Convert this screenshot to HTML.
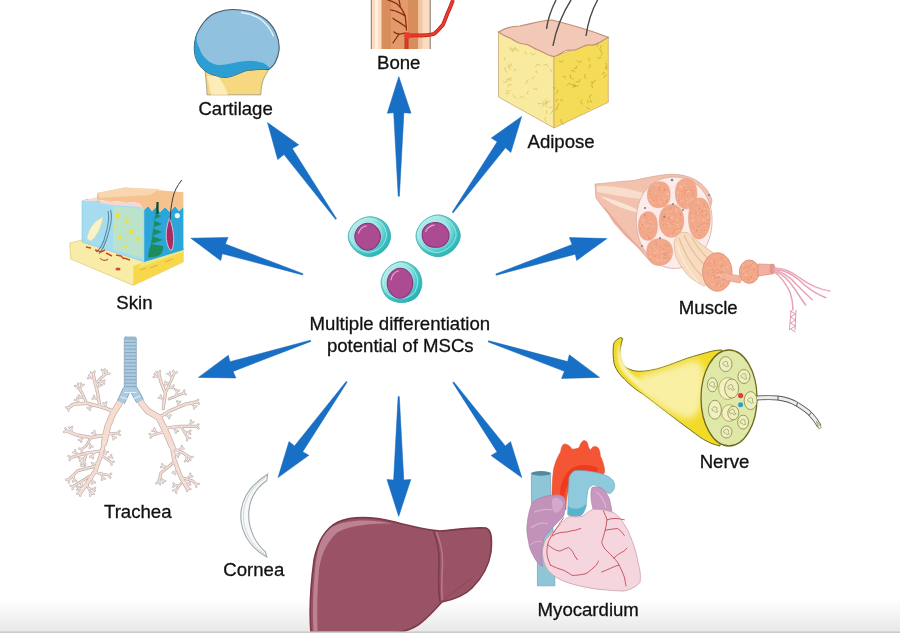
<!DOCTYPE html>
<html><head><meta charset="utf-8"><style>
html,body{margin:0;padding:0;background:#fff;}
#c{position:relative;width:900px;height:633px;overflow:hidden;background:#fff;}
svg{position:absolute;left:0;top:0;will-change:transform;}
text{font-family:"Liberation Sans",sans-serif;font-size:18.6px;fill:#111;stroke:#111;stroke-width:0.3px;}
</style></head><body><div id="c">
<svg width="900" height="633" viewBox="0 0 900 633">
<defs>
<radialGradient id="cyto" cx="0.38" cy="0.38" r="0.72"><stop offset="0" stop-color="#c8f2f0"/><stop offset="0.48" stop-color="#a0e6e4"/><stop offset="0.7" stop-color="#48c6c6"/><stop offset="1" stop-color="#18aaae"/></radialGradient>
<pattern id="dots" width="6" height="6" patternUnits="userSpaceOnUse"><rect width="6" height="6" fill="#f2a98a"/></pattern>
<filter id="blur1" x="-20%" y="-20%" width="140%" height="140%"><feGaussianBlur stdDeviation="1"/></filter>
<filter id="blur2" x="-30%" y="-30%" width="160%" height="160%"><feGaussianBlur stdDeviation="3.5"/></filter>
<linearGradient id="bot" x1="0" y1="0" x2="0" y2="1">
<stop offset="0" stop-color="#ffffff"/><stop offset="1" stop-color="#e8e8e8"/>
</linearGradient>
</defs>
<rect x="0" y="599" width="900" height="33" fill="url(#bot)"/>
<g id="illus">
<!-- CARTILAGE -->
<g id="cart">
<path d="M205,70 C206,80 207,88 207,94.8 L260.8,94.8 C261,88 262,82 264,78 C266,74 268,71 269,69 Z" fill="#f6d880" stroke="#9a927a" stroke-width="0.8"/>
<path d="M207,76 C209,84 210,90 211,94.8 L228,94.8 C226,88 222,82 218,76 Z" fill="#fbecb8"/>
<path d="M205.5,71 C199,66 195,59 194.5,52 C194,46 194.5,41 196,36.3 C198,30 201,26 204,22 C208,17 212,14 216.6,12.6 C222,10.5 227,9.5 232.4,9.5 C239,9.5 245,10.5 251.3,11.8 C257,14 263,17 267,20.5 C272,25 275,30 276.6,34.8 C279,40 279.5,45 279,50.5 C278.5,55 277,59 275,63 C273,66 271,68 268.7,69.5 C265,69.5 262,69.5 259.2,69.5 C255,69.5 251,70 248,70.3 C244,71 240,73 237,74.2 C233,76 229,77 226,77.4 C222,77.5 219,77 216.6,75.8 C212,74.5 208,73 205.5,71 Z" fill="#90c2e0" stroke="#4a5866" stroke-width="1.1"/>
<path d="M197.6,31.6 C196,38 196.5,44 199.2,47.4 C201,53 203,56 205.5,58.4 C209,62 213,64 216.6,64.8 C222,65.5 227,64 232.4,63.2 C238,62 245,61 251.3,60.8 C256,61 260,62 264,63.2 C267,65 269,67 270,68.5 C266,69.5 262,69.5 259.2,69.5 C255,69.5 251,70 248,70.3 C244,71 240,73 237,74.2 C233,76 229,77 226,77.4 C222,77.5 219,77 216.6,75.8 C212,74.5 208,73 205.5,71 C199,66 195,59 194.5,52 C194,46 195,38 197.6,31.6 Z" fill="#2c9ed2"/>
<path d="M241,12.5 C249,13.5 256,16 261,19.5 C267,24 271,30 273.5,36.3" stroke="#e6f4fa" stroke-width="1.4" fill="none"/>
</g>
<!-- BONE -->
<g id="bone">
<rect x="371" y="0" width="59.5" height="49" fill="#f9dcc2"/>
<rect x="381.5" y="0" width="37" height="49" fill="#d88d5c"/>
<rect x="391" y="0" width="17" height="49" fill="#e39a6a"/>
<rect x="418.5" y="0" width="4" height="49" fill="#f2c8a4"/>
<rect x="375" y="0" width="3" height="49" fill="#fdeee0"/>
<line x1="371.3" y1="0" x2="371.3" y2="49" stroke="#857870" stroke-width="1"/>
<line x1="430.2" y1="0" x2="430.2" y2="49" stroke="#857870" stroke-width="1"/>
<g stroke="#8e2c14" stroke-width="1.3" fill="none" stroke-linecap="round">
<path d="M406.5,30 C406,24 405.5,19 405.2,15.9 C403,11 401,8 400.3,7.3 C398,4.5 396,3 394.2,2.4 C392,1.5 390,0.5 388,0"/>
<path d="M400.3,7.3 C400,4 399.5,2 399,0"/>
<path d="M405.2,15.9 C401,13 398,12 395.5,11 C393,10.2 392,10 390.6,9.8"/>
<path d="M406,27 C402,24 399,22 396.7,20.8 C395,20 394,19 393,18.3"/>
<path d="M405.2,33 C403,33.5 401,34 399,34.2 C397,37 395,40 393,42.8"/>
<path d="M399,34.2 C397,34 395,33 394,32"/>
</g>
<path d="M406.5,49 L406.5,36 C410,35 416,35.5 421.1,35.5 C426,35.5 430,35 433.3,34.2 C437,32 440,28 443.1,24.4 C445,20 447,15 448,12.2 C450,8 451.5,4 453,0" stroke="#b82018" stroke-width="3.8" fill="none"/>
<path d="M406.5,49 L406.5,36 C410,35 416,35.5 421.1,35.5 C426,35.5 430,35 433.3,34.2 C437,32 440,28 443.1,24.4 C445,20 447,15 448,12.2 C450,8 451.5,4 453,0" stroke="#ec3a2e" stroke-width="2.3" fill="none"/>
<circle cx="407.5" cy="35.5" r="3.2" fill="#ec3a2e"/>
</g>
<!-- ADIPOSE -->
<g id="adipose">
<path d="M498.5,32 L554,56.5 L554,128 L498.5,97 Z" fill="#f8ea9e" stroke="#c8a878" stroke-width="0.8"/>
<path d="M554,56.5 L608.3,37.3 L608.3,102.3 L554,128 Z" fill="#f4dc58" stroke="#c8a878" stroke-width="0.8"/>
<path d="M498.5,32 C505,28 512,26 520,26 C530,24 542,20 552,20 C568,24 590,30 608.3,37.3 C600,42 596,46 590,45 C582,44 578,52 570,50 C562,50 560,56 554,56.5 C548,56 544,52 538,50 C532,48 530,44 524,44 C518,44 514,40 510,38 C504,36 502,34 498.5,32 Z" fill="#f2c8b6" stroke="#c09078" stroke-width="1.2"/>
<path d="M546.5,28.8 C548,18 552,8 556,0 M552.9,45.8 C556,30 562,14 571,0 M586,36 C588,22 592,10 597.6,0" stroke="#4a4a4a" stroke-width="1.4" fill="none"/>
<path d="M517.2,49.6 L515.9,47.8 L514.2,47.7 M503.1,81.7 L505.9,82.3 L507.8,81.1 M533.4,88.5 L536.4,89.7 L537.7,87.5 M515.3,49.0 L517.3,50.7 L519.4,50.9 M530.3,52.9 L533.1,54.9 L535.5,53.6 M526.3,83.9 L526.8,81.0 L528.9,79.8 M513.2,52.2 L513.6,50.1 L515.2,49.4 M546.4,101.7 L545.4,105.5 L547.7,107.8 M508.7,66.8 L511.3,65.6 L511.2,63.4 M516.6,98.6 L514.0,96.8 L513.2,94.4 M505.0,60.3 L504.3,58.3 L505.5,57.1 M552.6,110.0 L552.0,112.7 L550.4,114.2 M524.5,51.1 L526.0,52.5 L526.3,54.2 M513.1,71.2 L514.6,69.6 L516.3,69.8 M514.7,48.3 L511.9,49.6 L510.5,47.6 M536.2,70.2 L536.4,72.4 L537.8,73.5 M512.4,79.6 L510.2,78.3 L508.2,78.6 M528.3,90.9 L527.4,92.9 L528.3,94.5 M546.2,121.7 L544.8,118.8 L546.0,116.6 M505.5,93.1 L507.5,93.9 L508.9,93.0 M505.8,90.1 L508.3,91.9 L510.2,90.3 M511.0,69.9 L508.4,66.9 L509.2,63.9 M506.1,79.9 L509.0,79.5 L511.1,80.7 M505.4,66.8 L505.1,70.5 L507.4,72.3 M519.2,98.1 L522.2,96.3 L524.1,98.4 M545.8,98.7 L545.6,101.4 L547.2,102.9 M511.8,84.7 L508.5,84.7 L507.7,87.2 M543.4,102.6 L543.8,105.6 L541.7,106.8 M552.4,107.1 L550.1,107.5 L548.7,106.2 M550.6,68.8 L551.1,71.2 L552.8,72.2 M548.2,67.0 L545.9,64.1 L543.2,65.3 M541.5,103.5 L539.1,103.8 L537.5,102.9 M550.1,101.0 L546.8,101.8 L546.3,104.5 M509.0,47.4 L511.2,50.5 L514.2,50.1 M531.6,78.7 L533.7,77.8 L534.7,76.2 M542.4,101.4 L545.2,103.5 L547.8,102.6 M546.2,110.4 L546.8,112.8 L545.4,114.2 M540.5,65.3 L536.9,64.3 L535.5,66.9 " stroke="#dcc466" stroke-width="0.8" fill="none" stroke-linejoin="round"/>
<path d="M573.4,79.4 L570.1,77.5 L570.7,74.5 M600.7,51.2 L602.4,53.7 L601.0,55.7 M586.6,106.7 L588.0,108.6 L589.8,108.4 M572.0,84.6 L568.6,83.4 L567.0,85.7 M601.5,45.4 L599.7,49.0 L601.7,51.4 M578.5,85.9 L574.7,86.4 L573.6,83.5 M601.4,57.4 L598.7,58.3 L596.9,57.0 M558.8,60.7 L561.8,62.2 L563.5,60.2 M563.0,101.6 L561.8,99.7 L560.1,100.3 M575.7,81.9 L579.4,81.7 L580.4,78.9 M606.7,74.7 L604.3,76.0 L604.5,78.2 M556.0,87.6 L554.1,88.4 L552.8,87.4 M560.9,119.0 L561.4,122.7 L563.8,124.5 M557.1,107.0 L556.8,109.2 L555.0,109.5 M576.1,86.1 L573.1,85.9 L571.4,84.2 M558.0,99.2 L556.1,100.2 L556.1,101.9 M596.7,47.2 L598.0,45.5 L597.5,43.9 M572.6,87.6 L574.9,86.4 L575.8,84.6 M605.4,62.5 L607.0,66.0 L605.3,68.6 M565.7,78.3 L564.5,76.1 L562.6,76.7 M581.7,61.1 L578.6,62.2 L576.7,60.3 M605.5,66.5 L606.0,68.9 L607.9,69.0 M591.7,94.7 L589.5,96.2 L590.2,98.3 M555.7,93.8 L557.8,91.8 L558.2,89.6 M589.9,64.2 L590.0,66.8 L588.7,68.4 M573.9,68.3 L576.6,68.0 L576.8,65.9 M571.1,70.7 L573.9,70.7 L575.4,72.3 M589.1,61.3 L589.5,59.2 L588.6,57.7 M585.5,73.9 L584.5,77.0 L586.3,78.9 M582.5,104.5 L580.6,101.7 L582.3,99.5 M592.5,82.5 L591.8,85.7 L592.8,88.0 M587.6,103.1 L588.5,101.0 L587.1,99.8 M590.5,99.6 L590.8,101.7 L592.3,102.2 M604.9,72.4 L602.9,73.0 L602.6,74.7 M590.4,82.1 L594.0,82.2 L595.3,79.6 M558.4,103.4 L558.4,105.5 L557.2,106.7 " stroke="#c9aa2a" stroke-width="0.8" fill="none" stroke-linejoin="round"/>
</g>
<!-- SKIN -->
<g id="skin">
<path d="M69.7,243 L82,240 L145,260 L183.2,247.5 L183.2,262 L133.3,285.4 L70.7,259 Z" fill="#f8eca6" stroke="#d8c070" stroke-width="0.6"/>
<path d="M133.3,266 L183.2,248 L183.2,262 L133.3,285.4 Z" fill="#f6d84a"/>
<path d="M145,260 L183.2,247.5 L183.2,252 L138,268 Z" fill="#f2e684"/>
<path d="M140,270 l6,-2 M150,268 l8,-3 M165,262 l8,-3" stroke="#e0a040" stroke-width="0.8"/>
<path d="M82,201 L88,199 L90,201 L94,198 L97,201 L145,206 L145,262 L82,242 Z" fill="#a6dcf0" stroke="#7ccae6" stroke-width="0.6"/>
<path d="M144.3,210 L148,206 L152,211 L156,207 L160,212 L165,207 L170,212 L175,206 L179,211 L183.4,207 L183.4,250 L144.3,262 Z" fill="#2ca6d8"/>
<path d="M97,193 L125,187.6 L183.4,192.2 L183.4,207 L179,211 L175,206 L170,212 L165,207 L160,212 L156,207 L152,211 L148,206 L144.3,210 L140,204 L134,202 L126,203 L118,201 L110,202 L102,200 L97,201 Z" fill="#f6c28e"/>
<path d="M97,193 L125,187.6 L160,189 L150,195 L100,198 Z" fill="#f8d6b0"/>
<path d="M100,200 L110,202 L118,201 L126,203 L134,202 L140,204 L144.3,210 L140,207 L128,206 L112,205 L100,203 Z" fill="#f4d8d8"/>
<path d="M82,201 L97,197 L97,201 Z" fill="#f4dcd8"/>
<path d="M113,206 L143,209 L143,258 L113,249 Z" fill="#c8e8b0" opacity="0.6"/>
<g fill="#f2de3a">
<circle cx="118" cy="216" r="2.4"/><circle cx="127" cy="221" r="2"/><circle cx="131" cy="232" r="2.4"/><circle cx="120" cy="237" r="2"/><circle cx="138" cy="239" r="2"/><circle cx="115" cy="227" r="1.6"/><circle cx="126" cy="246" r="1.6"/>
</g>
<path d="M87,239 C88,229 94,221 103,217 C101,227 98,235 91,241 Z" fill="#f8f4c8" stroke="#e0d8a0" stroke-width="0.6"/>
<path d="M110.5,210 C113,218 110,228 107,238 C105,245 102,250 99,254 M108,211 C110,220 107,230 104,240 C102,246 99,250 96,252" stroke="#5a8ca4" stroke-width="1.1" fill="none"/>
<path d="M157,203 L158,210 L154,213 L161,216 L153,220 L162,224 L152,228 L162,232 L152,236 L163,240 L151,244 L163,246 C164,250 162,254 158,256 C154,257 150,258 148,257 C148,252 150,248 151,244 Z" fill="#1e8c5c"/>
<path d="M157.5,202 L157.5,214" stroke="#0e4a30" stroke-width="2.2"/>
<path d="M170,250 C165,242 165,230 169.5,218 C174,230 175,242 172,250 Z" fill="#a82c62" stroke="#f0d0dc" stroke-width="0.8"/>
<path d="M181.7,180 C177,186 174,192 173,197.4 C171,206 170.5,212 170.2,220" stroke="#3a3a3a" stroke-width="1" fill="none"/>
<circle cx="177.3" cy="215.6" r="2.6" fill="#eef8f8"/>
<path d="M86,247 l5,1 M95,250 l6,2 l4,-2 M106,253 l6,3 M116,255 l5,1 l3,3 M124,258 l6,2" stroke="#c84a28" stroke-width="1.5" fill="none"/>
<path d="M100,258 c2,3 6,3 8,1" stroke="#b07040" stroke-width="1.1" fill="none"/>
<ellipse cx="118" cy="269" rx="2.6" ry="1.5" fill="#d84a30"/>
</g>
<!-- MUSCLE -->
<g id="muscle">
<path d="M595,184 C610,183 622,181 633,180.7 C645,178 658,175 670,174.3 C690,174 706,182 712,200 L700,262 C680,266 660,266 650,261 C644,255 640,250 639.8,249.6 C634,243 630,239 627,235.4 C622,229 616,223 611.3,217 C605,210 600,204 596,198 Z" fill="#f2c2ae" stroke="#d8a090" stroke-width="0.7"/>
<path d="M597,186 C620,186 640,190 660,200 C640,200 620,196 597,192 Z" fill="#f8dccc"/>
<path d="M600,196 C615,200 632,206 646,214 C630,212 614,206 600,196 Z" fill="#f9e4d8"/>
<path d="M604,206 C616,222 630,238 646,254 C636,246 626,238 618,228 C612,222 608,214 604,206 Z" fill="#e6a290" opacity="0.8"/>
<path d="M636.3,222 C636,196 650,178 672,177 C694,176 711,192 712,218 C713,240 702,262 680,268 C656,272 637,250 636.3,222 Z" fill="#fbecea" stroke="#dcb0a6" stroke-width="0.9"/>
<g fill="url(#dots)" stroke="#e4a08a" stroke-width="0.6">
<path transform="translate(658.5,195) scale(1.06) translate(-658.5,-195)" d="M648,195 C648,186 654,182.6 660,182.6 C667,182.6 669.5,188 669.5,195 C669.5,203 665,207 658,207 C652,207 648,202 648,195 Z"/>
<path transform="translate(686,193.7) scale(1.06) translate(-686,-193.7)" d="M676,193 C676,184 680,179.5 686,179.5 C693,179.5 696.3,185 696.3,194 C696.3,203 692,208 686,208 C679,208 676,201 676,193 Z"/>
<path transform="translate(647.7,226) scale(1.06) translate(-647.7,-226)" d="M639,226 C639,217 643,212.6 648,212.6 C654,212.6 656.8,218 656.8,226 C656.8,235 653,239.5 648,239.5 C642,239.5 639,234 639,226 Z"/>
<path transform="translate(671.5,221) scale(1.06) translate(-671.5,-221)" d="M660,221 C660,211 665,205.5 672,205.5 C679,205.5 683,212 683,221 C683,230 678,236.3 671,236.3 C664,236.3 660,229 660,221 Z"/>
<path transform="translate(699.5,218.5) scale(1.06) translate(-699.5,-218.5)" d="M689.2,218 C689.2,206 694,199.2 700,199.2 C706,199.2 709.7,206 709.7,218 C709.7,230 705,237.9 699,237.9 C693,237.9 689.2,229 689.2,218 Z"/>
<path transform="translate(659.6,252) scale(1.06) translate(-659.6,-252)" d="M647.4,252 C647.4,244 652,239.5 659,239.5 C667,239.5 671.8,244 671.8,252 C671.8,260 666,264.7 659,264.7 C652,264.7 647.4,259 647.4,252 Z"/>
</g>
<path d="M650.5,197.5a0.73,0.73 0 1,0 1.45,0a0.73,0.73 0 1,0 -1.45,0M650.2,194.6a0.51,0.51 0 1,0 1.01,0a0.51,0.51 0 1,0 -1.01,0M651.8,187.6a0.48,0.48 0 1,0 0.96,0a0.48,0.48 0 1,0 -0.96,0M665.6,200.6a0.66,0.66 0 1,0 1.32,0a0.66,0.66 0 1,0 -1.32,0M658.6,196.2a0.61,0.61 0 1,0 1.22,0a0.61,0.61 0 1,0 -1.22,0M659.9,200.2a0.46,0.46 0 1,0 0.92,0a0.46,0.46 0 1,0 -0.92,0M649.6,195.0a0.59,0.59 0 1,0 1.17,0a0.59,0.59 0 1,0 -1.17,0M656.0,200.0a0.54,0.54 0 1,0 1.07,0a0.54,0.54 0 1,0 -1.07,0M658.5,187.8a0.70,0.70 0 1,0 1.41,0a0.70,0.70 0 1,0 -1.41,0M667.1,192.3a0.45,0.45 0 1,0 0.90,0a0.45,0.45 0 1,0 -0.90,0M663.7,190.8a0.74,0.74 0 1,0 1.49,0a0.74,0.74 0 1,0 -1.49,0M665.1,199.0a0.68,0.68 0 1,0 1.37,0a0.68,0.68 0 1,0 -1.37,0M661.8,198.8a0.48,0.48 0 1,0 0.96,0a0.48,0.48 0 1,0 -0.96,0M659.1,190.4a0.62,0.62 0 1,0 1.24,0a0.62,0.62 0 1,0 -1.24,0M662.9,200.0a0.51,0.51 0 1,0 1.03,0a0.51,0.51 0 1,0 -1.03,0M666.2,201.7a0.51,0.51 0 1,0 1.03,0a0.51,0.51 0 1,0 -1.03,0M658.8,188.5a0.54,0.54 0 1,0 1.08,0a0.54,0.54 0 1,0 -1.08,0M653.0,200.6a0.74,0.74 0 1,0 1.48,0a0.74,0.74 0 1,0 -1.48,0M649.5,190.2a0.50,0.50 0 1,0 1.01,0a0.50,0.50 0 1,0 -1.01,0M665.7,189.4a0.52,0.52 0 1,0 1.05,0a0.52,0.52 0 1,0 -1.05,0M663.8,189.0a0.58,0.58 0 1,0 1.15,0a0.58,0.58 0 1,0 -1.15,0M657.5,205.4a0.63,0.63 0 1,0 1.26,0a0.63,0.63 0 1,0 -1.26,0M661.9,203.7a0.47,0.47 0 1,0 0.94,0a0.47,0.47 0 1,0 -0.94,0M649.1,191.2a0.63,0.63 0 1,0 1.27,0a0.63,0.63 0 1,0 -1.27,0M662.0,192.4a0.45,0.45 0 1,0 0.91,0a0.45,0.45 0 1,0 -0.91,0M655.6,195.9a0.50,0.50 0 1,0 1.01,0a0.50,0.50 0 1,0 -1.01,0M692.7,195.6a0.59,0.59 0 1,0 1.19,0a0.59,0.59 0 1,0 -1.19,0M689.7,188.1a0.62,0.62 0 1,0 1.25,0a0.62,0.62 0 1,0 -1.25,0M683.2,181.2a0.53,0.53 0 1,0 1.07,0a0.53,0.53 0 1,0 -1.07,0M680.7,195.8a0.51,0.51 0 1,0 1.03,0a0.51,0.51 0 1,0 -1.03,0M691.9,192.7a0.47,0.47 0 1,0 0.94,0a0.47,0.47 0 1,0 -0.94,0M682.5,204.6a0.46,0.46 0 1,0 0.91,0a0.46,0.46 0 1,0 -0.91,0M683.9,194.3a0.70,0.70 0 1,0 1.40,0a0.70,0.70 0 1,0 -1.40,0M686.7,195.9a0.64,0.64 0 1,0 1.28,0a0.64,0.64 0 1,0 -1.28,0M683.7,188.3a0.59,0.59 0 1,0 1.19,0a0.59,0.59 0 1,0 -1.19,0M691.9,194.3a0.66,0.66 0 1,0 1.33,0a0.66,0.66 0 1,0 -1.33,0M684.6,201.4a0.66,0.66 0 1,0 1.32,0a0.66,0.66 0 1,0 -1.32,0M691.5,190.6a0.65,0.65 0 1,0 1.29,0a0.65,0.65 0 1,0 -1.29,0M689.0,187.6a0.47,0.47 0 1,0 0.95,0a0.47,0.47 0 1,0 -0.95,0M677.4,190.1a0.60,0.60 0 1,0 1.19,0a0.60,0.60 0 1,0 -1.19,0M686.2,190.6a0.69,0.69 0 1,0 1.38,0a0.69,0.69 0 1,0 -1.38,0M681.2,203.8a0.49,0.49 0 1,0 0.98,0a0.49,0.49 0 1,0 -0.98,0M691.6,190.6a0.73,0.73 0 1,0 1.47,0a0.73,0.73 0 1,0 -1.47,0M687.6,205.5a0.74,0.74 0 1,0 1.48,0a0.74,0.74 0 1,0 -1.48,0M681.5,191.1a0.61,0.61 0 1,0 1.22,0a0.61,0.61 0 1,0 -1.22,0M684.0,192.3a0.74,0.74 0 1,0 1.48,0a0.74,0.74 0 1,0 -1.48,0M678.4,200.6a0.62,0.62 0 1,0 1.24,0a0.62,0.62 0 1,0 -1.24,0M684.5,190.5a0.61,0.61 0 1,0 1.22,0a0.61,0.61 0 1,0 -1.22,0M694.4,190.3a0.53,0.53 0 1,0 1.06,0a0.53,0.53 0 1,0 -1.06,0M649.7,224.0a0.68,0.68 0 1,0 1.37,0a0.68,0.68 0 1,0 -1.37,0M648.4,231.6a0.66,0.66 0 1,0 1.31,0a0.66,0.66 0 1,0 -1.31,0M651.5,232.2a0.53,0.53 0 1,0 1.05,0a0.53,0.53 0 1,0 -1.05,0M641.7,224.4a0.56,0.56 0 1,0 1.13,0a0.56,0.56 0 1,0 -1.13,0M648.6,238.2a0.72,0.72 0 1,0 1.43,0a0.72,0.72 0 1,0 -1.43,0M647.6,236.6a0.53,0.53 0 1,0 1.06,0a0.53,0.53 0 1,0 -1.06,0M649.7,218.9a0.69,0.69 0 1,0 1.37,0a0.69,0.69 0 1,0 -1.37,0M641.6,231.9a0.46,0.46 0 1,0 0.91,0a0.46,0.46 0 1,0 -0.91,0M643.7,215.1a0.74,0.74 0 1,0 1.48,0a0.74,0.74 0 1,0 -1.48,0M648.0,229.1a0.48,0.48 0 1,0 0.96,0a0.48,0.48 0 1,0 -0.96,0M641.4,223.1a0.62,0.62 0 1,0 1.24,0a0.62,0.62 0 1,0 -1.24,0M640.0,228.6a0.55,0.55 0 1,0 1.10,0a0.55,0.55 0 1,0 -1.10,0M641.6,225.2a0.63,0.63 0 1,0 1.26,0a0.63,0.63 0 1,0 -1.26,0M644.9,215.1a0.50,0.50 0 1,0 1.01,0a0.50,0.50 0 1,0 -1.01,0M646.8,218.1a0.51,0.51 0 1,0 1.02,0a0.51,0.51 0 1,0 -1.02,0M644.9,214.9a0.64,0.64 0 1,0 1.28,0a0.64,0.64 0 1,0 -1.28,0M644.5,215.7a0.68,0.68 0 1,0 1.36,0a0.68,0.68 0 1,0 -1.36,0M646.8,222.7a0.55,0.55 0 1,0 1.11,0a0.55,0.55 0 1,0 -1.11,0M648.0,238.1a0.65,0.65 0 1,0 1.30,0a0.65,0.65 0 1,0 -1.30,0M643.7,218.0a0.61,0.61 0 1,0 1.22,0a0.61,0.61 0 1,0 -1.22,0M647.0,233.9a0.47,0.47 0 1,0 0.93,0a0.47,0.47 0 1,0 -0.93,0M653.7,225.7a0.69,0.69 0 1,0 1.39,0a0.69,0.69 0 1,0 -1.39,0M675.0,229.3a0.50,0.50 0 1,0 1.00,0a0.50,0.50 0 1,0 -1.00,0M668.8,218.8a0.73,0.73 0 1,0 1.47,0a0.73,0.73 0 1,0 -1.47,0M662.8,219.1a0.56,0.56 0 1,0 1.12,0a0.56,0.56 0 1,0 -1.12,0M670.6,222.6a0.52,0.52 0 1,0 1.05,0a0.52,0.52 0 1,0 -1.05,0M680.1,227.1a0.58,0.58 0 1,0 1.16,0a0.58,0.58 0 1,0 -1.16,0M668.0,218.1a0.64,0.64 0 1,0 1.27,0a0.64,0.64 0 1,0 -1.27,0M671.6,224.1a0.61,0.61 0 1,0 1.22,0a0.61,0.61 0 1,0 -1.22,0M662.7,225.1a0.59,0.59 0 1,0 1.17,0a0.59,0.59 0 1,0 -1.17,0M664.8,216.4a0.68,0.68 0 1,0 1.37,0a0.68,0.68 0 1,0 -1.37,0M681.3,220.8a0.67,0.67 0 1,0 1.34,0a0.67,0.67 0 1,0 -1.34,0M663.7,214.8a0.68,0.68 0 1,0 1.35,0a0.68,0.68 0 1,0 -1.35,0M673.5,221.9a0.53,0.53 0 1,0 1.06,0a0.53,0.53 0 1,0 -1.06,0M668.4,217.8a0.61,0.61 0 1,0 1.22,0a0.61,0.61 0 1,0 -1.22,0M665.8,228.1a0.51,0.51 0 1,0 1.03,0a0.51,0.51 0 1,0 -1.03,0M670.7,207.9a0.47,0.47 0 1,0 0.94,0a0.47,0.47 0 1,0 -0.94,0M673.9,210.4a0.68,0.68 0 1,0 1.36,0a0.68,0.68 0 1,0 -1.36,0M666.0,224.3a0.69,0.69 0 1,0 1.39,0a0.69,0.69 0 1,0 -1.39,0M664.9,209.3a0.55,0.55 0 1,0 1.10,0a0.55,0.55 0 1,0 -1.10,0M670.7,207.2a0.58,0.58 0 1,0 1.16,0a0.58,0.58 0 1,0 -1.16,0M679.3,228.7a0.47,0.47 0 1,0 0.95,0a0.47,0.47 0 1,0 -0.95,0M664.0,217.1a0.66,0.66 0 1,0 1.31,0a0.66,0.66 0 1,0 -1.31,0M679.9,214.2a0.72,0.72 0 1,0 1.45,0a0.72,0.72 0 1,0 -1.45,0M672.9,213.5a0.55,0.55 0 1,0 1.09,0a0.55,0.55 0 1,0 -1.09,0M680.3,215.6a0.52,0.52 0 1,0 1.05,0a0.52,0.52 0 1,0 -1.05,0M666.6,227.5a0.57,0.57 0 1,0 1.14,0a0.57,0.57 0 1,0 -1.14,0M673.5,231.1a0.69,0.69 0 1,0 1.38,0a0.69,0.69 0 1,0 -1.38,0M675.2,215.8a0.46,0.46 0 1,0 0.91,0a0.46,0.46 0 1,0 -0.91,0M661.6,219.3a0.57,0.57 0 1,0 1.14,0a0.57,0.57 0 1,0 -1.14,0M679.5,218.7a0.60,0.60 0 1,0 1.20,0a0.60,0.60 0 1,0 -1.20,0M669.1,209.1a0.72,0.72 0 1,0 1.45,0a0.72,0.72 0 1,0 -1.45,0M661.9,219.2a0.69,0.69 0 1,0 1.38,0a0.69,0.69 0 1,0 -1.38,0M667.9,225.1a0.51,0.51 0 1,0 1.02,0a0.51,0.51 0 1,0 -1.02,0M668.3,234.6a0.47,0.47 0 1,0 0.94,0a0.47,0.47 0 1,0 -0.94,0M677.3,228.6a0.68,0.68 0 1,0 1.37,0a0.68,0.68 0 1,0 -1.37,0M674.4,222.1a0.51,0.51 0 1,0 1.01,0a0.51,0.51 0 1,0 -1.01,0M671.7,233.1a0.63,0.63 0 1,0 1.26,0a0.63,0.63 0 1,0 -1.26,0M696.1,230.9a0.70,0.70 0 1,0 1.39,0a0.70,0.70 0 1,0 -1.39,0M698.2,235.5a0.72,0.72 0 1,0 1.45,0a0.72,0.72 0 1,0 -1.45,0M689.9,213.3a0.59,0.59 0 1,0 1.19,0a0.59,0.59 0 1,0 -1.19,0M707.7,223.9a0.69,0.69 0 1,0 1.38,0a0.69,0.69 0 1,0 -1.38,0M696.5,211.1a0.45,0.45 0 1,0 0.91,0a0.45,0.45 0 1,0 -0.91,0M701.0,224.5a0.55,0.55 0 1,0 1.09,0a0.55,0.55 0 1,0 -1.09,0M703.2,223.1a0.66,0.66 0 1,0 1.33,0a0.66,0.66 0 1,0 -1.33,0M702.1,210.7a0.69,0.69 0 1,0 1.37,0a0.69,0.69 0 1,0 -1.37,0M701.3,215.8a0.70,0.70 0 1,0 1.40,0a0.70,0.70 0 1,0 -1.40,0M697.0,227.8a0.47,0.47 0 1,0 0.95,0a0.47,0.47 0 1,0 -0.95,0M702.8,205.7a0.45,0.45 0 1,0 0.91,0a0.45,0.45 0 1,0 -0.91,0M697.7,210.0a0.62,0.62 0 1,0 1.24,0a0.62,0.62 0 1,0 -1.24,0M708.3,219.7a0.69,0.69 0 1,0 1.38,0a0.69,0.69 0 1,0 -1.38,0M695.1,212.0a0.56,0.56 0 1,0 1.13,0a0.56,0.56 0 1,0 -1.13,0M698.7,226.6a0.67,0.67 0 1,0 1.34,0a0.67,0.67 0 1,0 -1.34,0M705.6,213.9a0.67,0.67 0 1,0 1.33,0a0.67,0.67 0 1,0 -1.33,0M700.4,213.6a0.49,0.49 0 1,0 0.98,0a0.49,0.49 0 1,0 -0.98,0M695.5,204.9a0.50,0.50 0 1,0 1.01,0a0.50,0.50 0 1,0 -1.01,0M702.9,206.6a0.48,0.48 0 1,0 0.95,0a0.48,0.48 0 1,0 -0.95,0M700.8,223.8a0.57,0.57 0 1,0 1.14,0a0.57,0.57 0 1,0 -1.14,0M699.9,202.2a0.57,0.57 0 1,0 1.13,0a0.57,0.57 0 1,0 -1.13,0M704.8,210.9a0.56,0.56 0 1,0 1.11,0a0.56,0.56 0 1,0 -1.11,0M703.8,230.3a0.75,0.75 0 1,0 1.49,0a0.75,0.75 0 1,0 -1.49,0M696.0,212.8a0.47,0.47 0 1,0 0.95,0a0.47,0.47 0 1,0 -0.95,0M700.9,211.7a0.61,0.61 0 1,0 1.23,0a0.61,0.61 0 1,0 -1.23,0M693.4,227.9a0.69,0.69 0 1,0 1.38,0a0.69,0.69 0 1,0 -1.38,0M701.1,230.2a0.49,0.49 0 1,0 0.99,0a0.49,0.49 0 1,0 -0.99,0M695.3,215.3a0.61,0.61 0 1,0 1.21,0a0.61,0.61 0 1,0 -1.21,0M693.8,214.2a0.64,0.64 0 1,0 1.29,0a0.64,0.64 0 1,0 -1.29,0M703.6,204.3a0.57,0.57 0 1,0 1.15,0a0.57,0.57 0 1,0 -1.15,0M690.5,211.6a0.61,0.61 0 1,0 1.22,0a0.61,0.61 0 1,0 -1.22,0M690.6,225.6a0.55,0.55 0 1,0 1.09,0a0.55,0.55 0 1,0 -1.09,0M698.9,208.5a0.63,0.63 0 1,0 1.26,0a0.63,0.63 0 1,0 -1.26,0M703.4,227.0a0.60,0.60 0 1,0 1.20,0a0.60,0.60 0 1,0 -1.20,0M706.5,223.3a0.61,0.61 0 1,0 1.22,0a0.61,0.61 0 1,0 -1.22,0M696.9,229.1a0.52,0.52 0 1,0 1.04,0a0.52,0.52 0 1,0 -1.04,0M664.8,258.0a0.74,0.74 0 1,0 1.47,0a0.74,0.74 0 1,0 -1.47,0M659.3,258.4a0.55,0.55 0 1,0 1.09,0a0.55,0.55 0 1,0 -1.09,0M667.1,245.5a0.57,0.57 0 1,0 1.14,0a0.57,0.57 0 1,0 -1.14,0M662.9,248.9a0.70,0.70 0 1,0 1.40,0a0.70,0.70 0 1,0 -1.40,0M662.4,253.2a0.67,0.67 0 1,0 1.34,0a0.67,0.67 0 1,0 -1.34,0M667.5,245.6a0.66,0.66 0 1,0 1.33,0a0.66,0.66 0 1,0 -1.33,0M655.4,241.3a0.58,0.58 0 1,0 1.17,0a0.58,0.58 0 1,0 -1.17,0M660.0,258.4a0.66,0.66 0 1,0 1.33,0a0.66,0.66 0 1,0 -1.33,0M651.3,255.1a0.61,0.61 0 1,0 1.22,0a0.61,0.61 0 1,0 -1.22,0M664.1,255.3a0.68,0.68 0 1,0 1.35,0a0.68,0.68 0 1,0 -1.35,0M650.8,259.5a0.60,0.60 0 1,0 1.20,0a0.60,0.60 0 1,0 -1.20,0M655.6,244.3a0.74,0.74 0 1,0 1.47,0a0.74,0.74 0 1,0 -1.47,0M659.8,247.3a0.63,0.63 0 1,0 1.26,0a0.63,0.63 0 1,0 -1.26,0M649.6,247.2a0.50,0.50 0 1,0 1.01,0a0.50,0.50 0 1,0 -1.01,0M667.0,252.9a0.58,0.58 0 1,0 1.16,0a0.58,0.58 0 1,0 -1.16,0M651.3,248.4a0.69,0.69 0 1,0 1.37,0a0.69,0.69 0 1,0 -1.37,0M663.0,257.2a0.46,0.46 0 1,0 0.93,0a0.46,0.46 0 1,0 -0.93,0M667.8,257.6a0.50,0.50 0 1,0 1.00,0a0.50,0.50 0 1,0 -1.00,0M665.8,254.8a0.56,0.56 0 1,0 1.12,0a0.56,0.56 0 1,0 -1.12,0M664.3,253.4a0.72,0.72 0 1,0 1.43,0a0.72,0.72 0 1,0 -1.43,0M654.2,256.0a0.58,0.58 0 1,0 1.15,0a0.58,0.58 0 1,0 -1.15,0M659.7,257.8a0.62,0.62 0 1,0 1.23,0a0.62,0.62 0 1,0 -1.23,0M648.4,254.7a0.56,0.56 0 1,0 1.12,0a0.56,0.56 0 1,0 -1.12,0M667.9,250.9a0.46,0.46 0 1,0 0.92,0a0.46,0.46 0 1,0 -0.92,0M664.6,245.2a0.72,0.72 0 1,0 1.43,0a0.72,0.72 0 1,0 -1.43,0" fill="#e88e6c"/><path d="M667.8,193.7a0.65,0.65 0 1,0 1.29,0a0.65,0.65 0 1,0 -1.29,0M649.2,198.8a0.61,0.61 0 1,0 1.21,0a0.61,0.61 0 1,0 -1.21,0M668.0,194.8a0.70,0.70 0 1,0 1.40,0a0.70,0.70 0 1,0 -1.40,0M662.8,198.4a0.74,0.74 0 1,0 1.48,0a0.74,0.74 0 1,0 -1.48,0M661.2,204.1a0.49,0.49 0 1,0 0.98,0a0.49,0.49 0 1,0 -0.98,0M667.0,193.1a0.54,0.54 0 1,0 1.08,0a0.54,0.54 0 1,0 -1.08,0M659.4,202.0a0.71,0.71 0 1,0 1.41,0a0.71,0.71 0 1,0 -1.41,0M664.6,199.7a0.52,0.52 0 1,0 1.05,0a0.52,0.52 0 1,0 -1.05,0M657.3,183.9a0.51,0.51 0 1,0 1.02,0a0.51,0.51 0 1,0 -1.02,0M667.7,197.7a0.52,0.52 0 1,0 1.04,0a0.52,0.52 0 1,0 -1.04,0M654.6,193.2a0.56,0.56 0 1,0 1.12,0a0.56,0.56 0 1,0 -1.12,0M666.1,193.9a0.66,0.66 0 1,0 1.31,0a0.66,0.66 0 1,0 -1.31,0M659.3,196.7a0.46,0.46 0 1,0 0.91,0a0.46,0.46 0 1,0 -0.91,0M655.0,184.3a0.46,0.46 0 1,0 0.91,0a0.46,0.46 0 1,0 -0.91,0M649.3,196.1a0.55,0.55 0 1,0 1.09,0a0.55,0.55 0 1,0 -1.09,0M664.5,198.9a0.67,0.67 0 1,0 1.34,0a0.67,0.67 0 1,0 -1.34,0M657.1,185.4a0.69,0.69 0 1,0 1.38,0a0.69,0.69 0 1,0 -1.38,0M652.7,202.6a0.72,0.72 0 1,0 1.44,0a0.72,0.72 0 1,0 -1.44,0M649.9,200.1a0.71,0.71 0 1,0 1.42,0a0.71,0.71 0 1,0 -1.42,0M681.2,187.9a0.62,0.62 0 1,0 1.25,0a0.62,0.62 0 1,0 -1.25,0M692.0,198.8a0.75,0.75 0 1,0 1.50,0a0.75,0.75 0 1,0 -1.50,0M684.5,185.6a0.67,0.67 0 1,0 1.34,0a0.67,0.67 0 1,0 -1.34,0M677.3,198.1a0.48,0.48 0 1,0 0.95,0a0.48,0.48 0 1,0 -0.95,0M683.2,184.9a0.63,0.63 0 1,0 1.27,0a0.63,0.63 0 1,0 -1.27,0M685.4,195.1a0.54,0.54 0 1,0 1.08,0a0.54,0.54 0 1,0 -1.08,0M686.4,198.9a0.72,0.72 0 1,0 1.44,0a0.72,0.72 0 1,0 -1.44,0M677.0,198.1a0.55,0.55 0 1,0 1.10,0a0.55,0.55 0 1,0 -1.10,0M687.3,201.9a0.69,0.69 0 1,0 1.38,0a0.69,0.69 0 1,0 -1.38,0M689.7,200.7a0.70,0.70 0 1,0 1.40,0a0.70,0.70 0 1,0 -1.40,0M680.7,187.1a0.54,0.54 0 1,0 1.09,0a0.54,0.54 0 1,0 -1.09,0M686.7,191.8a0.66,0.66 0 1,0 1.33,0a0.66,0.66 0 1,0 -1.33,0M680.0,185.9a0.69,0.69 0 1,0 1.38,0a0.69,0.69 0 1,0 -1.38,0M679.2,186.1a0.57,0.57 0 1,0 1.14,0a0.57,0.57 0 1,0 -1.14,0M687.6,191.5a0.73,0.73 0 1,0 1.46,0a0.73,0.73 0 1,0 -1.46,0M689.8,200.2a0.64,0.64 0 1,0 1.28,0a0.64,0.64 0 1,0 -1.28,0M680.1,200.7a0.71,0.71 0 1,0 1.43,0a0.71,0.71 0 1,0 -1.43,0M683.8,181.9a0.64,0.64 0 1,0 1.28,0a0.64,0.64 0 1,0 -1.28,0M687.3,205.9a0.74,0.74 0 1,0 1.49,0a0.74,0.74 0 1,0 -1.49,0M677.2,191.0a0.55,0.55 0 1,0 1.09,0a0.55,0.55 0 1,0 -1.09,0M677.2,192.5a0.70,0.70 0 1,0 1.40,0a0.70,0.70 0 1,0 -1.40,0M686.7,203.1a0.54,0.54 0 1,0 1.07,0a0.54,0.54 0 1,0 -1.07,0M680.8,186.4a0.70,0.70 0 1,0 1.41,0a0.70,0.70 0 1,0 -1.41,0M683.1,201.2a0.70,0.70 0 1,0 1.41,0a0.70,0.70 0 1,0 -1.41,0M689.7,199.9a0.69,0.69 0 1,0 1.39,0a0.69,0.69 0 1,0 -1.39,0M680.1,194.8a0.51,0.51 0 1,0 1.01,0a0.51,0.51 0 1,0 -1.01,0M643.2,233.8a0.48,0.48 0 1,0 0.96,0a0.48,0.48 0 1,0 -0.96,0M643.9,225.1a0.51,0.51 0 1,0 1.02,0a0.51,0.51 0 1,0 -1.02,0M643.1,219.0a0.71,0.71 0 1,0 1.41,0a0.71,0.71 0 1,0 -1.41,0M649.5,221.3a0.67,0.67 0 1,0 1.34,0a0.67,0.67 0 1,0 -1.34,0M651.0,222.0a0.54,0.54 0 1,0 1.09,0a0.54,0.54 0 1,0 -1.09,0M639.8,225.6a0.60,0.60 0 1,0 1.20,0a0.60,0.60 0 1,0 -1.20,0M648.5,231.2a0.70,0.70 0 1,0 1.40,0a0.70,0.70 0 1,0 -1.40,0M649.5,224.3a0.47,0.47 0 1,0 0.94,0a0.47,0.47 0 1,0 -0.94,0M645.9,225.9a0.72,0.72 0 1,0 1.44,0a0.72,0.72 0 1,0 -1.44,0M642.1,220.8a0.74,0.74 0 1,0 1.49,0a0.74,0.74 0 1,0 -1.49,0M646.6,237.9a0.67,0.67 0 1,0 1.35,0a0.67,0.67 0 1,0 -1.35,0M649.1,218.7a0.72,0.72 0 1,0 1.44,0a0.72,0.72 0 1,0 -1.44,0M652.0,226.5a0.64,0.64 0 1,0 1.28,0a0.64,0.64 0 1,0 -1.28,0M653.7,226.0a0.66,0.66 0 1,0 1.32,0a0.66,0.66 0 1,0 -1.32,0M648.3,225.8a0.63,0.63 0 1,0 1.27,0a0.63,0.63 0 1,0 -1.27,0M645.3,228.8a0.53,0.53 0 1,0 1.05,0a0.53,0.53 0 1,0 -1.05,0M641.3,223.2a0.74,0.74 0 1,0 1.48,0a0.74,0.74 0 1,0 -1.48,0M641.3,219.7a0.46,0.46 0 1,0 0.93,0a0.46,0.46 0 1,0 -0.93,0M666.5,212.1a0.54,0.54 0 1,0 1.07,0a0.54,0.54 0 1,0 -1.07,0M676.1,231.4a0.57,0.57 0 1,0 1.13,0a0.57,0.57 0 1,0 -1.13,0M670.7,217.8a0.75,0.75 0 1,0 1.49,0a0.75,0.75 0 1,0 -1.49,0M676.1,219.8a0.61,0.61 0 1,0 1.21,0a0.61,0.61 0 1,0 -1.21,0M669.5,211.3a0.74,0.74 0 1,0 1.49,0a0.74,0.74 0 1,0 -1.49,0M678.5,229.9a0.69,0.69 0 1,0 1.37,0a0.69,0.69 0 1,0 -1.37,0M667.3,226.8a0.66,0.66 0 1,0 1.31,0a0.66,0.66 0 1,0 -1.31,0M670.8,235.2a0.72,0.72 0 1,0 1.45,0a0.72,0.72 0 1,0 -1.45,0M678.4,227.1a0.62,0.62 0 1,0 1.23,0a0.62,0.62 0 1,0 -1.23,0M671.5,217.1a0.51,0.51 0 1,0 1.03,0a0.51,0.51 0 1,0 -1.03,0M676.0,224.9a0.67,0.67 0 1,0 1.33,0a0.67,0.67 0 1,0 -1.33,0M670.1,226.3a0.56,0.56 0 1,0 1.11,0a0.56,0.56 0 1,0 -1.11,0M668.4,224.7a0.66,0.66 0 1,0 1.33,0a0.66,0.66 0 1,0 -1.33,0M675.2,211.8a0.50,0.50 0 1,0 1.01,0a0.50,0.50 0 1,0 -1.01,0M663.0,218.0a0.74,0.74 0 1,0 1.48,0a0.74,0.74 0 1,0 -1.48,0M671.8,217.6a0.61,0.61 0 1,0 1.23,0a0.61,0.61 0 1,0 -1.23,0M673.5,223.1a0.67,0.67 0 1,0 1.34,0a0.67,0.67 0 1,0 -1.34,0M678.4,226.8a0.49,0.49 0 1,0 0.99,0a0.49,0.49 0 1,0 -0.99,0M667.8,215.3a0.52,0.52 0 1,0 1.03,0a0.52,0.52 0 1,0 -1.03,0M674.8,210.6a0.71,0.71 0 1,0 1.41,0a0.71,0.71 0 1,0 -1.41,0M675.9,209.3a0.74,0.74 0 1,0 1.47,0a0.74,0.74 0 1,0 -1.47,0M667.2,223.6a0.67,0.67 0 1,0 1.34,0a0.67,0.67 0 1,0 -1.34,0M677.6,224.7a0.63,0.63 0 1,0 1.25,0a0.63,0.63 0 1,0 -1.25,0M701.0,227.3a0.50,0.50 0 1,0 1.00,0a0.50,0.50 0 1,0 -1.00,0M692.2,216.3a0.53,0.53 0 1,0 1.06,0a0.53,0.53 0 1,0 -1.06,0M692.9,230.1a0.66,0.66 0 1,0 1.33,0a0.66,0.66 0 1,0 -1.33,0M703.6,209.0a0.64,0.64 0 1,0 1.28,0a0.64,0.64 0 1,0 -1.28,0M698.3,231.6a0.50,0.50 0 1,0 0.99,0a0.50,0.50 0 1,0 -0.99,0M707.5,218.6a0.70,0.70 0 1,0 1.41,0a0.70,0.70 0 1,0 -1.41,0M692.2,220.0a0.74,0.74 0 1,0 1.47,0a0.74,0.74 0 1,0 -1.47,0M692.3,215.0a0.50,0.50 0 1,0 0.99,0a0.50,0.50 0 1,0 -0.99,0M691.0,221.6a0.56,0.56 0 1,0 1.12,0a0.56,0.56 0 1,0 -1.12,0M703.7,225.5a0.59,0.59 0 1,0 1.18,0a0.59,0.59 0 1,0 -1.18,0M697.3,228.5a0.57,0.57 0 1,0 1.14,0a0.57,0.57 0 1,0 -1.14,0M704.4,212.9a0.60,0.60 0 1,0 1.21,0a0.60,0.60 0 1,0 -1.21,0M697.9,219.7a0.57,0.57 0 1,0 1.14,0a0.57,0.57 0 1,0 -1.14,0M707.3,216.7a0.65,0.65 0 1,0 1.30,0a0.65,0.65 0 1,0 -1.30,0M704.4,219.7a0.55,0.55 0 1,0 1.11,0a0.55,0.55 0 1,0 -1.11,0M703.5,225.4a0.60,0.60 0 1,0 1.21,0a0.60,0.60 0 1,0 -1.21,0M702.4,205.9a0.50,0.50 0 1,0 1.00,0a0.50,0.50 0 1,0 -1.00,0M697.1,202.4a0.51,0.51 0 1,0 1.02,0a0.51,0.51 0 1,0 -1.02,0M691.8,211.5a0.55,0.55 0 1,0 1.10,0a0.55,0.55 0 1,0 -1.10,0M694.8,227.9a0.49,0.49 0 1,0 0.97,0a0.49,0.49 0 1,0 -0.97,0M704.9,231.4a0.61,0.61 0 1,0 1.23,0a0.61,0.61 0 1,0 -1.23,0M694.2,215.1a0.72,0.72 0 1,0 1.45,0a0.72,0.72 0 1,0 -1.45,0M702.1,205.7a0.49,0.49 0 1,0 0.97,0a0.49,0.49 0 1,0 -0.97,0M696.8,235.1a0.52,0.52 0 1,0 1.04,0a0.52,0.52 0 1,0 -1.04,0M702.7,220.0a0.75,0.75 0 1,0 1.49,0a0.75,0.75 0 1,0 -1.49,0M696.0,210.1a0.65,0.65 0 1,0 1.30,0a0.65,0.65 0 1,0 -1.30,0M697.0,212.5a0.74,0.74 0 1,0 1.48,0a0.74,0.74 0 1,0 -1.48,0M692.8,220.7a0.64,0.64 0 1,0 1.27,0a0.64,0.64 0 1,0 -1.27,0M699.3,202.9a0.60,0.60 0 1,0 1.19,0a0.60,0.60 0 1,0 -1.19,0M697.4,201.6a0.67,0.67 0 1,0 1.34,0a0.67,0.67 0 1,0 -1.34,0M706.9,209.1a0.65,0.65 0 1,0 1.30,0a0.65,0.65 0 1,0 -1.30,0M650.1,257.0a0.52,0.52 0 1,0 1.03,0a0.52,0.52 0 1,0 -1.03,0M649.3,247.5a0.48,0.48 0 1,0 0.96,0a0.48,0.48 0 1,0 -0.96,0M657.1,250.7a0.46,0.46 0 1,0 0.92,0a0.46,0.46 0 1,0 -0.92,0M656.0,259.7a0.73,0.73 0 1,0 1.46,0a0.73,0.73 0 1,0 -1.46,0M654.0,252.9a0.54,0.54 0 1,0 1.08,0a0.54,0.54 0 1,0 -1.08,0M654.2,252.8a0.71,0.71 0 1,0 1.43,0a0.71,0.71 0 1,0 -1.43,0M661.8,260.9a0.51,0.51 0 1,0 1.01,0a0.51,0.51 0 1,0 -1.01,0M661.3,257.2a0.65,0.65 0 1,0 1.30,0a0.65,0.65 0 1,0 -1.30,0M652.5,258.8a0.72,0.72 0 1,0 1.43,0a0.72,0.72 0 1,0 -1.43,0M659.7,258.4a0.73,0.73 0 1,0 1.46,0a0.73,0.73 0 1,0 -1.46,0M657.6,261.2a0.48,0.48 0 1,0 0.95,0a0.48,0.48 0 1,0 -0.95,0M654.2,248.3a0.53,0.53 0 1,0 1.05,0a0.53,0.53 0 1,0 -1.05,0M657.6,260.5a0.51,0.51 0 1,0 1.01,0a0.51,0.51 0 1,0 -1.01,0M661.1,251.8a0.59,0.59 0 1,0 1.18,0a0.59,0.59 0 1,0 -1.18,0M650.5,248.8a0.56,0.56 0 1,0 1.12,0a0.56,0.56 0 1,0 -1.12,0M660.7,243.8a0.60,0.60 0 1,0 1.20,0a0.60,0.60 0 1,0 -1.20,0M649.6,255.8a0.69,0.69 0 1,0 1.37,0a0.69,0.69 0 1,0 -1.37,0M659.8,260.2a0.52,0.52 0 1,0 1.03,0a0.52,0.52 0 1,0 -1.03,0M656.8,252.0a0.63,0.63 0 1,0 1.26,0a0.63,0.63 0 1,0 -1.26,0M658.3,262.4a0.47,0.47 0 1,0 0.94,0a0.47,0.47 0 1,0 -0.94,0M653.1,246.1a0.53,0.53 0 1,0 1.06,0a0.53,0.53 0 1,0 -1.06,0M664.0,260.2a0.70,0.70 0 1,0 1.40,0a0.70,0.70 0 1,0 -1.40,0M661.3,251.6a0.60,0.60 0 1,0 1.19,0a0.60,0.60 0 1,0 -1.19,0M663.3,251.6a0.59,0.59 0 1,0 1.17,0a0.59,0.59 0 1,0 -1.17,0M670.0,254.5a0.68,0.68 0 1,0 1.36,0a0.68,0.68 0 1,0 -1.36,0M657.4,249.7a0.55,0.55 0 1,0 1.11,0a0.55,0.55 0 1,0 -1.11,0" fill="#f8c4aa"/>
<g fill="#6a7080" opacity="0.85">
<circle cx="672" cy="180" r="1.3"/><circle cx="645" cy="208" r="1.1"/><circle cx="673" cy="204" r="1"/><circle cx="683" cy="210" r="1"/><circle cx="709" cy="195" r="1"/><circle cx="660" cy="238" r="1"/><circle cx="686" cy="238" r="1"/><circle cx="642" cy="246" r="1"/><circle cx="664" cy="217" r="0.9"/>
</g>
<path d="M677.3,235.3 C681,232 684,232 688,232.7 C692,236 696,240 700,243.3 C705,247 709,250 713.3,252.7 L732,272 L704,286 C696,282 690,278 686.7,274 C682,268 678,262 676,256.7 C674,250 674,244 674.7,240.7 Z" fill="#f8dcc0" stroke="#e0b494" stroke-width="0.7"/>
<path d="M679,238 C683,250 690,264 702,276 M684,235 C690,248 698,260 708,268 M692,238 C698,248 704,256 712,262" stroke="#e6bc98" stroke-width="1.1" fill="none"/>
<path d="M677,244 C680,256 686,268 698,282" stroke="#fcecd8" stroke-width="1.2" fill="none"/>
<ellipse cx="717.3" cy="272" rx="14.7" ry="19.3" fill="url(#dots)" stroke="#e08a70" stroke-width="0.8"/>
<path d="M712,276 C722,278 730,282 740,283 L744,276 C738,276 730,274 720,272 Z" fill="#f2b49c" stroke="#e08a70" stroke-width="0.5"/>
<ellipse cx="749.3" cy="271.7" rx="10" ry="11.7" fill="url(#dots)" stroke="#e08a70" stroke-width="0.8"/>
<path d="M718.4,281.4a0.51,0.51 0 1,0 1.01,0a0.51,0.51 0 1,0 -1.01,0M719.6,278.3a0.51,0.51 0 1,0 1.03,0a0.51,0.51 0 1,0 -1.03,0M720.4,266.4a0.56,0.56 0 1,0 1.13,0a0.56,0.56 0 1,0 -1.13,0M714.1,262.9a0.53,0.53 0 1,0 1.06,0a0.53,0.53 0 1,0 -1.06,0M715.4,263.8a0.56,0.56 0 1,0 1.12,0a0.56,0.56 0 1,0 -1.12,0M718.2,270.7a0.55,0.55 0 1,0 1.09,0a0.55,0.55 0 1,0 -1.09,0M713.9,271.5a0.57,0.57 0 1,0 1.14,0a0.57,0.57 0 1,0 -1.14,0M721.3,273.6a0.63,0.63 0 1,0 1.26,0a0.63,0.63 0 1,0 -1.26,0M713.6,281.8a0.61,0.61 0 1,0 1.23,0a0.61,0.61 0 1,0 -1.23,0M710.2,277.7a0.71,0.71 0 1,0 1.42,0a0.71,0.71 0 1,0 -1.42,0M714.9,281.2a0.51,0.51 0 1,0 1.03,0a0.51,0.51 0 1,0 -1.03,0M720.7,266.2a0.64,0.64 0 1,0 1.28,0a0.64,0.64 0 1,0 -1.28,0M709.9,276.5a0.47,0.47 0 1,0 0.94,0a0.47,0.47 0 1,0 -0.94,0M712.7,282.1a0.53,0.53 0 1,0 1.07,0a0.53,0.53 0 1,0 -1.07,0M717.0,277.0a0.55,0.55 0 1,0 1.11,0a0.55,0.55 0 1,0 -1.11,0M716.2,269.6a0.57,0.57 0 1,0 1.13,0a0.57,0.57 0 1,0 -1.13,0M724.1,276.0a0.47,0.47 0 1,0 0.93,0a0.47,0.47 0 1,0 -0.93,0M709.5,266.3a0.55,0.55 0 1,0 1.10,0a0.55,0.55 0 1,0 -1.10,0M716.0,285.3a0.51,0.51 0 1,0 1.01,0a0.51,0.51 0 1,0 -1.01,0M722.1,265.1a0.72,0.72 0 1,0 1.45,0a0.72,0.72 0 1,0 -1.45,0M722.5,280.7a0.54,0.54 0 1,0 1.09,0a0.54,0.54 0 1,0 -1.09,0M721.5,271.1a0.51,0.51 0 1,0 1.02,0a0.51,0.51 0 1,0 -1.02,0M714.3,264.9a0.45,0.45 0 1,0 0.90,0a0.45,0.45 0 1,0 -0.90,0M707.5,272.7a0.56,0.56 0 1,0 1.12,0a0.56,0.56 0 1,0 -1.12,0M716.7,260.1a0.52,0.52 0 1,0 1.04,0a0.52,0.52 0 1,0 -1.04,0M714.3,278.1a0.60,0.60 0 1,0 1.21,0a0.60,0.60 0 1,0 -1.21,0M722.9,279.1a0.68,0.68 0 1,0 1.36,0a0.68,0.68 0 1,0 -1.36,0M722.6,284.9a0.71,0.71 0 1,0 1.42,0a0.71,0.71 0 1,0 -1.42,0M716.4,283.6a0.69,0.69 0 1,0 1.38,0a0.69,0.69 0 1,0 -1.38,0M715.3,264.0a0.66,0.66 0 1,0 1.33,0a0.66,0.66 0 1,0 -1.33,0M722.2,259.3a0.49,0.49 0 1,0 0.98,0a0.49,0.49 0 1,0 -0.98,0M713.9,265.2a0.51,0.51 0 1,0 1.01,0a0.51,0.51 0 1,0 -1.01,0M706.3,263.9a0.74,0.74 0 1,0 1.48,0a0.74,0.74 0 1,0 -1.48,0M713.6,262.3a0.64,0.64 0 1,0 1.28,0a0.64,0.64 0 1,0 -1.28,0M721.0,271.8a0.55,0.55 0 1,0 1.10,0a0.55,0.55 0 1,0 -1.10,0M708.5,269.0a0.56,0.56 0 1,0 1.12,0a0.56,0.56 0 1,0 -1.12,0M720.3,257.8a0.54,0.54 0 1,0 1.07,0a0.54,0.54 0 1,0 -1.07,0M708.6,262.4a0.74,0.74 0 1,0 1.49,0a0.74,0.74 0 1,0 -1.49,0M713.5,260.7a0.69,0.69 0 1,0 1.38,0a0.69,0.69 0 1,0 -1.38,0M718.4,276.7a0.73,0.73 0 1,0 1.46,0a0.73,0.73 0 1,0 -1.46,0M712.5,272.4a0.55,0.55 0 1,0 1.09,0a0.55,0.55 0 1,0 -1.09,0M712.4,269.5a0.64,0.64 0 1,0 1.28,0a0.64,0.64 0 1,0 -1.28,0M717.9,283.2a0.56,0.56 0 1,0 1.12,0a0.56,0.56 0 1,0 -1.12,0M719.5,273.3a0.72,0.72 0 1,0 1.44,0a0.72,0.72 0 1,0 -1.44,0M720.1,286.5a0.60,0.60 0 1,0 1.19,0a0.60,0.60 0 1,0 -1.19,0M716.0,265.3a0.46,0.46 0 1,0 0.92,0a0.46,0.46 0 1,0 -0.92,0M746.7,278.2a0.45,0.45 0 1,0 0.91,0a0.45,0.45 0 1,0 -0.91,0M752.0,264.2a0.75,0.75 0 1,0 1.49,0a0.75,0.75 0 1,0 -1.49,0M753.6,269.8a0.66,0.66 0 1,0 1.32,0a0.66,0.66 0 1,0 -1.32,0M749.7,270.9a0.62,0.62 0 1,0 1.25,0a0.62,0.62 0 1,0 -1.25,0M744.4,277.5a0.56,0.56 0 1,0 1.11,0a0.56,0.56 0 1,0 -1.11,0M752.7,268.6a0.48,0.48 0 1,0 0.96,0a0.48,0.48 0 1,0 -0.96,0M748.4,267.3a0.67,0.67 0 1,0 1.35,0a0.67,0.67 0 1,0 -1.35,0M747.3,268.0a0.48,0.48 0 1,0 0.96,0a0.48,0.48 0 1,0 -0.96,0M745.6,276.8a0.45,0.45 0 1,0 0.91,0a0.45,0.45 0 1,0 -0.91,0M749.6,277.8a0.66,0.66 0 1,0 1.32,0a0.66,0.66 0 1,0 -1.32,0M747.6,279.6a0.73,0.73 0 1,0 1.47,0a0.73,0.73 0 1,0 -1.47,0M750.6,277.0a0.75,0.75 0 1,0 1.49,0a0.75,0.75 0 1,0 -1.49,0M745.3,267.2a0.64,0.64 0 1,0 1.29,0a0.64,0.64 0 1,0 -1.29,0M746.6,265.6a0.65,0.65 0 1,0 1.30,0a0.65,0.65 0 1,0 -1.30,0M747.2,271.5a0.64,0.64 0 1,0 1.28,0a0.64,0.64 0 1,0 -1.28,0M743.3,267.6a0.73,0.73 0 1,0 1.46,0a0.73,0.73 0 1,0 -1.46,0M740.5,273.6a0.67,0.67 0 1,0 1.34,0a0.67,0.67 0 1,0 -1.34,0M754.5,278.6a0.60,0.60 0 1,0 1.19,0a0.60,0.60 0 1,0 -1.19,0M750.3,265.1a0.75,0.75 0 1,0 1.50,0a0.75,0.75 0 1,0 -1.50,0" fill="#e88e6c"/><path d="M707.9,281.3a0.56,0.56 0 1,0 1.13,0a0.56,0.56 0 1,0 -1.13,0M713.6,282.2a0.75,0.75 0 1,0 1.50,0a0.75,0.75 0 1,0 -1.50,0M719.3,279.6a0.57,0.57 0 1,0 1.14,0a0.57,0.57 0 1,0 -1.14,0M723.4,268.2a0.68,0.68 0 1,0 1.36,0a0.68,0.68 0 1,0 -1.36,0M726.8,279.6a0.55,0.55 0 1,0 1.10,0a0.55,0.55 0 1,0 -1.10,0M714.9,264.0a0.67,0.67 0 1,0 1.34,0a0.67,0.67 0 1,0 -1.34,0M720.1,277.9a0.53,0.53 0 1,0 1.07,0a0.53,0.53 0 1,0 -1.07,0M726.3,274.0a0.62,0.62 0 1,0 1.24,0a0.62,0.62 0 1,0 -1.24,0M723.3,270.6a0.65,0.65 0 1,0 1.30,0a0.65,0.65 0 1,0 -1.30,0M718.8,285.2a0.65,0.65 0 1,0 1.30,0a0.65,0.65 0 1,0 -1.30,0M709.9,278.5a0.50,0.50 0 1,0 1.00,0a0.50,0.50 0 1,0 -1.00,0M722.1,282.1a0.66,0.66 0 1,0 1.32,0a0.66,0.66 0 1,0 -1.32,0M723.8,273.4a0.72,0.72 0 1,0 1.44,0a0.72,0.72 0 1,0 -1.44,0M707.7,261.5a0.56,0.56 0 1,0 1.12,0a0.56,0.56 0 1,0 -1.12,0M726.8,266.9a0.64,0.64 0 1,0 1.28,0a0.64,0.64 0 1,0 -1.28,0M710.0,277.6a0.53,0.53 0 1,0 1.07,0a0.53,0.53 0 1,0 -1.07,0M712.0,276.9a0.60,0.60 0 1,0 1.20,0a0.60,0.60 0 1,0 -1.20,0M707.4,268.2a0.62,0.62 0 1,0 1.24,0a0.62,0.62 0 1,0 -1.24,0M723.7,270.2a0.55,0.55 0 1,0 1.11,0a0.55,0.55 0 1,0 -1.11,0M712.6,284.7a0.66,0.66 0 1,0 1.32,0a0.66,0.66 0 1,0 -1.32,0M727.7,268.7a0.50,0.50 0 1,0 1.00,0a0.50,0.50 0 1,0 -1.00,0M719.8,273.7a0.48,0.48 0 1,0 0.96,0a0.48,0.48 0 1,0 -0.96,0M711.2,284.3a0.70,0.70 0 1,0 1.41,0a0.70,0.70 0 1,0 -1.41,0M709.4,267.7a0.66,0.66 0 1,0 1.32,0a0.66,0.66 0 1,0 -1.32,0M728.0,265.4a0.46,0.46 0 1,0 0.93,0a0.46,0.46 0 1,0 -0.93,0M718.6,274.3a0.54,0.54 0 1,0 1.07,0a0.54,0.54 0 1,0 -1.07,0M721.3,275.3a0.60,0.60 0 1,0 1.19,0a0.60,0.60 0 1,0 -1.19,0M719.6,262.4a0.47,0.47 0 1,0 0.93,0a0.47,0.47 0 1,0 -0.93,0M711.4,261.3a0.53,0.53 0 1,0 1.07,0a0.53,0.53 0 1,0 -1.07,0M724.8,259.8a0.58,0.58 0 1,0 1.17,0a0.58,0.58 0 1,0 -1.17,0M719.2,275.0a0.56,0.56 0 1,0 1.12,0a0.56,0.56 0 1,0 -1.12,0M749.5,271.4a0.61,0.61 0 1,0 1.22,0a0.61,0.61 0 1,0 -1.22,0M750.6,263.7a0.57,0.57 0 1,0 1.14,0a0.57,0.57 0 1,0 -1.14,0M744.8,275.5a0.65,0.65 0 1,0 1.29,0a0.65,0.65 0 1,0 -1.29,0M744.8,274.8a0.61,0.61 0 1,0 1.22,0a0.61,0.61 0 1,0 -1.22,0M750.9,280.4a0.55,0.55 0 1,0 1.09,0a0.55,0.55 0 1,0 -1.09,0M755.1,277.8a0.58,0.58 0 1,0 1.16,0a0.58,0.58 0 1,0 -1.16,0M742.8,265.6a0.71,0.71 0 1,0 1.41,0a0.71,0.71 0 1,0 -1.41,0M742.6,271.5a0.48,0.48 0 1,0 0.97,0a0.48,0.48 0 1,0 -0.97,0M745.7,274.8a0.63,0.63 0 1,0 1.26,0a0.63,0.63 0 1,0 -1.26,0M748.0,262.1a0.57,0.57 0 1,0 1.14,0a0.57,0.57 0 1,0 -1.14,0M752.1,265.1a0.73,0.73 0 1,0 1.46,0a0.73,0.73 0 1,0 -1.46,0M753.6,265.8a0.53,0.53 0 1,0 1.05,0a0.53,0.53 0 1,0 -1.05,0" fill="#f8c4aa"/>
<path d="M758,264 L772,264.5 L774.7,268.7 L772,274 L758,276 Z" fill="#f3b0a0" stroke="#d88070" stroke-width="0.6"/>
<ellipse cx="772.5" cy="269" rx="2.5" ry="5" fill="#e89888" stroke="#d88070" stroke-width="0.5"/>
<path d="M774.7,268 C784,268 792,272 800,278 C808,284 818,289 829.8,291 M774.7,269 C784,270 792,274 799,280 C806,287 814,293 825.8,297.7 M774.5,270 C782,272 790,277 796,284 C802,290 807,295 812.3,299.7 M774.5,271 C782,274 789,280 794,288 C798,294 802,300 805.6,305 M774.5,272 C780,276 786,284 790,292 C792,298 793,304 793,310" stroke="#e8a2b4" stroke-width="1.5" fill="none" stroke-linecap="round"/>
<path d="M774.7,268.5 C784,269 792,273 800,279 C808,285 818,290 829.8,291 M774.5,270.5 C782,273 789,279 794,287" stroke="#f6d0da" stroke-width="0.6" fill="none"/>
<path d="M791,310 L789.5,330 M796,310 L795,330" stroke="#d890a8" stroke-width="0.9" fill="none"/>
<path d="M790.5,311 l5,3 l-5,3 l5,3 l-5,3 l5,3 l-5,3 l5,3" stroke="#d890a8" stroke-width="0.9" fill="none"/>
</g>
<!-- NERVE -->
<g id="nerve">
<path d="M620.9,337.6 C616,339 613,343 613.3,347 C613,352 613,358 614.2,364 C616,370 620,375 624.6,379.3 C630,385 636,390 643.6,394.5 C652,401 660,407 668.2,413.4 C676,419 683,425 691,430.5 C697,435 702,439 708,441.8 C712,444 716,445 720,446 L722,350 C716,350 712,351 706.2,352.7 C698,355 690,357 681.5,360.3 C672,364 664,367 656.9,368.9 C648,371 640,372 634.1,370.8 C628,369 624,367 622.7,364 C620,358 619.5,354 620,350.9 C620.5,346 622,341 622.7,338.5 Z" fill="#f2da28" stroke="#6e6a20" stroke-width="1"/>
<path d="M620,343 C616,352 617,364 623,372 C630,381 642,390 654,398 C652,390 644,382 634,376 C625,369 620,358 620,343 Z" fill="#faf2b0" filter="url(#blur1)"/>
<path d="M640,376 C656,372 674,366 694,360 C704,362 706,374 704,390 C702,406 698,416 690,419 C676,417 662,408 650,398 C640,390 636,382 640,376 Z" fill="#f9f0a4" filter="url(#blur2)"/>
<ellipse cx="729" cy="398" rx="28" ry="48" fill="#dfe8a6" stroke="#6e6a20" stroke-width="1.3"/>
<ellipse cx="727.7" cy="388.5" rx="9" ry="11" fill="#f4f0c0" stroke="#8a8a40" stroke-width="0.6"/>
<ellipse cx="731.7" cy="388.5" rx="7" ry="9.5" fill="#eeeebc" stroke="#7a7a38" stroke-width="0.7"/>
<path d="M728.7,385.5 q2,-2 4,0 q-1,3 2,4 q-3,2 -4,-1 q-2,2 -3,-1 z" fill="none" stroke="#9a9a60" stroke-width="0.7"/>
<ellipse cx="729.3" cy="413" rx="7.5" ry="8.3" fill="#f4f0c0" stroke="#8a8a40" stroke-width="0.6"/>
<ellipse cx="733.3" cy="413" rx="5.5" ry="6.800000000000001" fill="#eeeebc" stroke="#7a7a38" stroke-width="0.7"/>
<path d="M730.3,410 q2,-2 4,0 q-1,3 2,4 q-3,2 -4,-1 q-2,2 -3,-1 z" fill="none" stroke="#9a9a60" stroke-width="0.7"/>
<ellipse cx="725.7" cy="364.1" rx="6.3" ry="7.5" fill="#eef0c0" stroke="#7a7a38" stroke-width="0.7"/>
<path d="M723.7,362.1 q2,-2 4,0 q-1,3 1,4 q-3,2 -4,-1 q-2,1 -2,-2 z" fill="none" stroke="#9a9a60" stroke-width="0.7"/>
<ellipse cx="744" cy="376.5" rx="6" ry="7" fill="#eef0c0" stroke="#7a7a38" stroke-width="0.7"/>
<path d="M742,374.5 q2,-2 4,0 q-1,3 1,4 q-3,2 -4,-1 q-2,1 -2,-2 z" fill="none" stroke="#9a9a60" stroke-width="0.7"/>
<ellipse cx="712.4" cy="384.8" rx="5" ry="7" fill="#eef0c0" stroke="#7a7a38" stroke-width="0.7"/>
<path d="M710.4,382.8 q2,-2 4,0 q-1,3 1,4 q-3,2 -4,-1 q-2,1 -2,-2 z" fill="none" stroke="#9a9a60" stroke-width="0.7"/>
<ellipse cx="750.6" cy="400.6" rx="6.5" ry="9" fill="#eef0c0" stroke="#7a7a38" stroke-width="0.7"/>
<path d="M748.6,398.6 q2,-2 4,0 q-1,3 1,4 q-3,2 -4,-1 q-2,1 -2,-2 z" fill="none" stroke="#9a9a60" stroke-width="0.7"/>
<ellipse cx="714.9" cy="409.7" rx="6.5" ry="9.5" fill="#eef0c0" stroke="#7a7a38" stroke-width="0.7"/>
<path d="M712.9,407.7 q2,-2 4,0 q-1,3 1,4 q-3,2 -4,-1 q-2,1 -2,-2 z" fill="none" stroke="#9a9a60" stroke-width="0.7"/>
<ellipse cx="743.1" cy="422.1" rx="5.5" ry="7" fill="#eef0c0" stroke="#7a7a38" stroke-width="0.7"/>
<path d="M741.1,420.1 q2,-2 4,0 q-1,3 1,4 q-3,2 -4,-1 q-2,1 -2,-2 z" fill="none" stroke="#9a9a60" stroke-width="0.7"/>
<ellipse cx="726.5" cy="432" rx="5.5" ry="6" fill="#eef0c0" stroke="#7a7a38" stroke-width="0.7"/>
<path d="M724.5,430 q2,-2 4,0 q-1,3 1,4 q-3,2 -4,-1 q-2,1 -2,-2 z" fill="none" stroke="#9a9a60" stroke-width="0.7"/>
<circle cx="740.6" cy="395.6" r="2.6" fill="#e23c3c"/>
<circle cx="740.6" cy="404.7" r="2.5" fill="#2a9ed0"/>
<path d="M757,398 C766,397.5 772,397.5 778,398 C786,399 792,401 797.8,404.7 C803,408 808,411 811,414.7 C815,419 817,422 819.4,426.3" stroke="#555" stroke-width="4.8" fill="none"/>
<path d="M757,398 C766,397.5 772,397.5 778,398 C786,399 792,401 797.8,404.7 C803,408 808,411 811,414.7 C815,419 817,422 819.4,426.3" stroke="#ededea" stroke-width="3.2" fill="none"/>
<path d="M778,396 l0,4 M797.5,402.5 l-1,4 M811,412.5 l-2,3" stroke="#5a5a5a" stroke-width="1"/>
<path d="M816.5,421.5 L821.5,427.5 L819,429 Z" fill="#f4f4c8" stroke="#7a7a40" stroke-width="0.6"/>
</g>
<!-- CORNEA -->
<path id="cornea" d="M267.6,474.2 C252,484 241,498 240.8,515.3 C240.5,532 250,548 266.8,557.1 L265.3,551.6 C256,544 248.7,530 248.7,515.3 C248.7,500 256,488 266.8,480.5 Z" fill="#f6f9fa" stroke="#a2a8aa" stroke-width="1.1"/>
<path d="M265.5,477.5 C253,486 243.5,499 243.3,515.3 C243.2,530 251,545 264,553.5" stroke="#c8cdd0" stroke-width="0.8" fill="none"/>
<!-- LIVER -->
<g id="liver">
<path d="M311,633 C309,610 310,590 314,560 C318,540 326,528 338,522 C350,517 370,516 395,522 C410,526 425,530 440,531 C455,530 470,527 486,528 C492,530 492,540 491,552 C489,565 482,578 472,588 C464,596 452,600 442,602 C436,608 428,618 418,625 C410,630 400,633 390,633 Z" fill="#9a5365" stroke="#7a3a4a" stroke-width="1.6"/>
<path d="M313.5,631 C312.5,610 313,590 315.5,565 C318,545 322,535 332,527 C345,520 368,518.5 392,523.5 C372,523.5 350,525 338,532 C327,541 321,555 319,570 C317,590 317,610 317.5,631 Z" fill="#bd8292"/>
<path d="M433.3,530.6 C437,540 439.5,552 439,562 C438.5,575 438,590 440,602" stroke="#7a3a4a" stroke-width="1.5" fill="none"/>
<path d="M436.5,532 C440.5,542 443,554 442.5,564 C442,576 441,588 442.5,600" stroke="#b4798a" stroke-width="1.6" fill="none"/>
<path d="M442,602 C450,594 462,586 472,578" stroke="#8a4658" stroke-width="1" fill="none"/>
</g>
<!-- HEART -->
<g id="heart">
<path d="M531.4,473 L550.6,473 L550.6,490 L554.8,560 L554.8,585.8 L537.4,585.8 L537.4,560 L531.4,500 Z" fill="#8ec6d8" stroke="#6aa4b8" stroke-width="0.7"/>
<ellipse cx="541" cy="473.4" rx="9.6" ry="2.4" fill="#4c8c9c"/>
<path d="M552,496 C552,486 552.5,478 553.4,470.6 C555,462 558,456 560.6,452 C561,449 561.5,447 562,446.4 C563,444 565,443.5 566,444.2 C569,445 571,447 572,449.2 C575,449 577,448.5 579,447.8 C580,445 581,442 583.3,440.7 C585,440 587,441.5 587.6,443.5 C588,446 589,448 590.4,450.6 C591,448 593,446.5 594.7,446.4 C597,446.5 599,448 599,449.2 C600,452 600.3,454 600.4,456.3 C602,459 603,462 604,466.3 C604.5,468 604.7,470 604.7,472 L598,482 C590,474 580,472 574,478 C568,486 566,498 566,510 Z" fill="#f35535" stroke="#e8482a" stroke-width="0.5"/>
<path d="M560,494 C560,484 564,474 572,468 C580,464 590,464 598,468 L596,474 C588,470 578,472 572,478 C566,486 564,494 564,500 Z" fill="#f03a20"/>
<path d="M567.7,514.7 C568,500 568.5,488 569,477.7 C571,473 573,471 576,470.6 C586,470 596,472 604.7,474.8 C608,476 611,478 613.2,480.5 C614.5,483 615,485 614.6,487.6 C614,490 612,492.5 610.4,493.3 C607,494 604,491 601.8,489 C599,487 596,485 593.3,484.8 C590,486 588,488.5 587.6,491.9 C587,496 586.5,501 586.2,506 C585,510 583.5,513 582,514.7 C578,517 572,517 567.7,514.7 Z" fill="#8ecadc" stroke="#6aaabe" stroke-width="0.6"/>
<path d="M568,506 C572,510 580,510 586,504 L586.2,506 C585,510 583.5,513 582,514.7 C578,517 572,517 567.7,514.7 Z" fill="#5ab2cc"/>
<path d="M532.2,502.4 C538,498 544,496 551.3,495.4 C556,494.5 562,494 565.2,498.9 C566,505 565,512 563.5,516.3 C556,524 550,530 544.3,537.2 C542,545 541,555 542.6,566.7 C539,564 537,562 535.6,559.8 C531,552 529,547 528.7,542.4 C527,535 526.5,530 527,525 C528,515 530,508 532.2,502.4 Z" fill="#c292ba" stroke="#a67aa4" stroke-width="0.6"/>
<path d="M534,512 C540,510 546,508 552,510 M531,528 C536,524 542,522 548,524 M530,545 C534,542 538,540 542,542" stroke="#d8b0d0" stroke-width="1.2" fill="none"/>
<path d="M553,498 C558,497 562,499 563,504 C562,510 558,514 554,512 C552,508 551,502 553,498 Z" fill="#d4a8cc"/>
<path d="M591.9,487.6 C596,486 601,487 604,490 C608,495 610,499 610.4,503.3 C611.5,508 612,512 611.8,514.7 L594,512 C591,504 590,494 591.9,487.6 Z" fill="#c898c0" stroke="#a67aa4" stroke-width="0.6"/>
<path d="M596,492 C600,494 604,500 606,508" stroke="#dcb4d4" stroke-width="1.2" fill="none"/>
<path d="M546,539 C543,545 542,550 542.6,554.5 C543,561 545,566 547.8,570.2 C553,576 560,580 567,582.4 C578,586 588,588 598.2,589.3 C608,590 616,591 624.3,591 C632,589 637,586 640,582.4 C641,575 640,569 638.2,563.2 C636,550 632,540 627.8,530.2 C623,522 619,516 613.9,512.8 C607,510 600,509 593,509.3 C589,511 586,514 582.6,516.3 C578,517 574,517 570.4,516.3 C566,518 563,521 560,525 C555,530 550,535 546,539 Z" fill="#f6d6de" stroke="#c8a0aa" stroke-width="0.8"/>
<g stroke="#c24a56" stroke-width="0.9" fill="none" stroke-linecap="round">
<path d="M563.5,518 C559,524 556,529 553,533.7 C550,538 548.5,541 547.8,544 C547,548 546.8,551 547,554.5 C547.5,558 549,562 550.4,565"/>
<path d="M548,545 C552,548 556,551 560,551 C563,550 566,548 568.7,547.6 C571,549 573,552 574,554.5 C575,556 576,558 577.4,559.8"/>
<path d="M552,536 C556,533 562,532 567,532 C570,531 573,530.5 575.6,530.2 C577,529.5 579,529 580.8,528.5"/>
<path d="M550.4,565 C554,567 559,569 563.5,570.2 C567,572 570,574 572.2,575.4 C577,575.5 582,574.5 586,573.7 C590,571 593,568 596.5,565 C597.5,563 598,562 598.5,561"/>
<path d="M603.5,511 C605,514 606,517 607,519.8 C606.5,523 606,527 605.2,530.2 C604,535 602.5,539 601.7,542.4 C602.5,545 603.5,547 605.2,549.3 C608,552 611,555 613.9,558 C616,560 617.5,562 619,565 C621,569 623,573 624.3,577 C625,580 625.5,583 626,586"/>
<path d="M605.2,530.2 C609,529.5 613,529 617.4,528.5 C620,530 622,532 624.3,535.4"/>
<path d="M613.9,558 C617,555 620,553 624.3,551 C625,550 626,549 627,548"/>
<path d="M619,565 C616,566 613,567 610.4,568.4 C607,570 604,571 601.7,572"/>
<path d="M607,519.8 C612,518 618,518 624.3,519.8"/>
</g>
</g>
<g id="trachea" stroke-linecap="round" stroke-linejoin="round" fill="none">
<path d="M123.5,396.0 L119.0,404.0 L113.2,413.0 L107.6,426.5 L104.3,442.0" stroke="#bcb0ae" stroke-width="6.6"/>
<path d="M104.3,442.0 L101.0,455.0 L95.4,470.8 L86.6,484.0 L80.0,493.0" stroke="#bcb0ae" stroke-width="4.4"/>
<path d="M113.2,411.0 L99.9,406.5 L86.6,403.2 L73.3,404.3 L68.9,407.6" stroke="#bcb0ae" stroke-width="3.6"/>
<path d="M99.9,406.5 L97.7,393.2 L95.4,384.4 L93.2,374.0" stroke="#bcb0ae" stroke-width="3.2"/>
<path d="M95.4,384.4 L101.0,378.0 L106.5,373.5" stroke="#bcb0ae" stroke-width="2.7"/>
<path d="M86.6,403.2 L82.2,393.2 L77.7,386.6" stroke="#bcb0ae" stroke-width="2.8"/>
<path d="M104.3,435.3 L91.0,437.5 L77.7,435.3 L66.6,431.0" stroke="#bcb0ae" stroke-width="3.4"/>
<path d="M91.0,437.5 L86.0,446.0 L82.0,449.0" stroke="#bcb0ae" stroke-width="2.5999999999999996"/>
<path d="M104.0,434.0 L117.6,433.1" stroke="#bcb0ae" stroke-width="2.7"/>
<path d="M102.1,450.8 L86.6,453.0 L71.0,457.5" stroke="#bcb0ae" stroke-width="3.2"/>
<path d="M86.6,453.0 L84.0,462.0" stroke="#bcb0ae" stroke-width="2.5999999999999996"/>
<path d="M101.0,455.0 L111.0,462.0" stroke="#bcb0ae" stroke-width="2.7"/>
<path d="M95.4,466.3 L77.7,470.8 L68.9,479.6" stroke="#bcb0ae" stroke-width="3.0"/>
<path d="M90.0,476.0 L73.3,486.3" stroke="#bcb0ae" stroke-width="2.8"/>
<path d="M93.0,472.0 L108.7,475.2" stroke="#bcb0ae" stroke-width="2.7"/>
<path d="M86.6,484.0 L91.0,493.0" stroke="#bcb0ae" stroke-width="2.7"/>
<path d="M137.5,395.0 L142.0,404.0 L147.7,410.9 L158.8,417.5 L165.4,430.8 L172.0,446.3" stroke="#bcb0ae" stroke-width="6.6"/>
<path d="M172.0,446.3 L174.2,459.6 L180.9,477.3 L187.5,488.3" stroke="#bcb0ae" stroke-width="4.4"/>
<path d="M158.8,417.5 L169.8,410.9 L185.3,404.2 L196.4,402.0" stroke="#bcb0ae" stroke-width="3.4"/>
<path d="M163.2,408.7 L165.4,393.2 L161.0,382.1 L158.8,373.5" stroke="#bcb0ae" stroke-width="3.2"/>
<path d="M165.4,393.2 L170.0,383.0 L174.2,373.5" stroke="#bcb0ae" stroke-width="2.7"/>
<path d="M169.0,399.0 L183.1,393.2" stroke="#bcb0ae" stroke-width="2.7"/>
<path d="M165.0,428.0 L180.9,426.4 L196.4,426.4" stroke="#bcb0ae" stroke-width="3.2"/>
<path d="M180.9,426.4 L187.5,437.4" stroke="#bcb0ae" stroke-width="2.7"/>
<path d="M164.0,432.0 L152.1,435.2" stroke="#bcb0ae" stroke-width="2.7"/>
<path d="M172.0,448.0 L183.1,452.9 L189.7,457.3" stroke="#bcb0ae" stroke-width="3.0"/>
<path d="M174.2,462.0 L161.0,472.8 L158.8,481.7" stroke="#bcb0ae" stroke-width="3.0"/>
<path d="M180.9,477.3 L192.0,480.6 L196.0,484.0" stroke="#bcb0ae" stroke-width="2.8"/>
<path d="M183.0,481.0 L176.0,490.0" stroke="#bcb0ae" stroke-width="2.5999999999999996"/>
<path d="M104.3,442.0 L105.8,444.6 M104.3,442.0 L101.8,443.7 M80.0,493.0 L80.4,496.0 M80.0,493.0 L77.1,493.6 M102.7,448.5 L105.6,451.9 M105.6,451.9 L108.0,452.1 M105.6,451.9 L105.6,454.3 M98.2,462.9 L93.9,464.1 M93.9,464.1 L92.6,466.1 M93.9,464.1 L91.7,462.9 M91.0,477.4 L92.7,481.6 M92.7,481.6 L94.9,482.6 M92.7,481.6 L91.8,483.8 M83.3,488.5 L78.8,488.4 M78.8,488.4 L77.0,489.9 M78.8,488.4 L77.1,486.7 M68.9,407.6 L68.4,410.6 M68.9,407.6 L65.9,407.3 M106.6,408.8 L105.3,404.4 M105.3,404.4 L103.3,403.2 M105.3,404.4 L106.4,402.3 M93.2,404.9 L89.9,407.8 M89.9,407.8 L89.7,410.2 M89.9,407.8 L87.5,407.8 M79.9,403.8 L77.1,400.3 M77.1,400.3 L74.7,399.9 M77.1,400.3 L77.3,397.9 M93.2,374.0 L90.7,372.3 M93.2,374.0 L94.7,371.4 M98.8,399.9 L94.7,397.9 M94.7,397.9 L92.4,398.7 M94.7,397.9 L93.8,395.7 M96.6,388.8 L99.5,385.4 M99.5,385.4 L99.4,383.0 M99.5,385.4 L101.9,385.1 M94.3,379.2 L90.1,377.5 M90.1,377.5 L87.9,378.3 M90.1,377.5 L89.1,375.3 M106.5,373.5 L106.9,370.5 M106.5,373.5 L109.5,373.7 M98.2,381.2 L102.7,381.7 M102.7,381.7 L104.6,380.3 M102.7,381.7 L104.2,383.6 M103.8,375.8 L103.4,371.3 M103.4,371.3 L101.6,369.7 M103.4,371.3 L104.8,369.4 M77.7,386.6 L74.8,385.9 M77.7,386.6 L78.2,383.6 M84.4,398.2 L80.0,397.4 M80.0,397.4 L77.9,398.7 M80.0,397.4 L78.6,395.4 M80.0,389.9 L81.6,385.7 M81.6,385.7 L80.7,383.5 M81.6,385.7 L83.7,384.7 M66.6,431.0 L63.8,432.1 M66.6,431.0 L65.3,428.3 M97.7,436.4 L94.5,433.2 M94.5,433.2 L92.1,433.0 M94.5,433.2 L94.5,430.8 M84.3,436.4 L81.2,439.6 M81.2,439.6 L81.2,442.0 M81.2,439.6 L78.8,439.8 M72.2,433.1 L71.1,428.8 M71.1,428.8 L69.1,427.4 M71.1,428.8 L72.3,426.7 M82.0,449.0 L81.5,452.0 M82.0,449.0 L79.0,448.7 M88.5,441.8 L90.4,445.8 M90.4,445.8 L92.6,446.7 M90.4,445.8 L89.7,448.1 M117.6,433.1 L119.7,430.9 M117.6,433.1 L119.9,435.0 M110.8,433.6 L113.6,437.1 M113.6,437.1 L116.0,437.5 M113.6,437.1 L113.4,439.5 M71.0,457.5 L69.5,460.1 M71.0,457.5 L68.3,456.1 M94.3,451.9 L92.4,455.9 M92.4,455.9 L93.0,458.2 M92.4,455.9 L90.1,456.8 M78.8,455.2 L75.3,452.4 M75.3,452.4 L72.9,452.5 M75.3,452.4 L75.0,450.0 M84.0,462.0 L85.4,464.7 M84.0,462.0 L81.4,463.5 M85.3,457.5 L81.0,458.9 M81.0,458.9 L79.9,461.0 M81.0,458.9 L78.8,457.9 M111.0,462.0 L114.0,461.6 M111.0,462.0 L111.6,464.9 M106.0,458.5 L110.2,456.9 M110.2,456.9 L111.3,454.8 M110.2,456.9 L112.4,457.8 M68.9,479.6 L68.8,482.6 M68.9,479.6 L65.9,479.7 M86.6,468.6 L83.2,465.6 M83.2,465.6 L80.8,465.6 M83.2,465.6 L82.9,463.2 M73.3,475.2 L74.1,479.6 M74.1,479.6 L76.1,481.0 M74.1,479.6 L72.8,481.7 M73.3,486.3 L72.5,489.2 M73.3,486.3 L70.4,485.7 M81.7,481.1 L81.4,485.6 M81.4,485.6 L83.0,487.5 M81.4,485.6 L79.7,487.3 M108.7,475.2 L111.3,473.6 M108.7,475.2 L110.4,477.6 M100.8,473.6 L102.6,477.7 M102.6,477.7 L104.8,478.7 M102.6,477.7 L101.8,480.0 M91.0,493.0 L93.8,494.1 M91.0,493.0 L90.1,495.9 M88.8,488.5 L93.3,489.2 M93.3,489.2 L95.2,487.8 M93.3,489.2 L94.8,491.0 M172.0,446.3 L174.7,447.5 M172.0,446.3 L171.0,449.1 M187.5,488.3 L190.4,489.1 M187.5,488.3 L186.9,491.2 M173.1,453.0 L177.2,454.9 M177.2,454.9 L179.5,454.1 M177.2,454.9 L178.1,457.1 M177.6,468.5 L175.0,472.1 M175.0,472.1 L175.3,474.5 M175.0,472.1 L172.6,472.6 M184.2,482.8 L188.7,483.1 M188.7,483.1 L190.5,481.5 M188.7,483.1 L190.3,484.8 M196.4,402.0 L198.2,399.6 M196.4,402.0 L199.0,403.6 M164.3,414.2 L168.4,416.1 M168.4,416.1 L170.7,415.3 M168.4,416.1 L169.3,418.3 M177.6,407.5 L178.4,403.1 M178.4,403.1 L177.1,401.1 M178.4,403.1 L180.3,401.7 M190.9,403.1 L194.1,406.2 M194.1,406.2 L196.5,406.3 M194.1,406.2 L194.2,408.6 M158.8,373.5 L156.3,371.9 M158.8,373.5 L160.2,370.9 M164.3,400.9 L161.0,397.9 M161.0,397.9 L158.6,397.9 M161.0,397.9 L160.8,395.5 M163.2,387.6 L165.7,383.9 M165.7,383.9 L165.3,381.5 M165.7,383.9 L168.1,383.4 M159.9,377.8 L155.7,376.3 M155.7,376.3 L153.5,377.2 M155.7,376.3 L154.6,374.1 M174.2,373.5 L173.2,370.7 M174.2,373.5 L177.0,372.3 M167.7,388.1 L172.1,387.3 M172.1,387.3 L173.6,385.4 M172.1,387.3 L174.1,388.6 M172.1,378.2 L169.7,374.4 M169.7,374.4 L167.4,373.8 M169.7,374.4 L170.2,372.1 M183.1,393.2 L184.4,390.5 M183.1,393.2 L185.9,394.3 M176.1,396.1 L177.0,391.7 M177.0,391.7 L175.8,389.6 M177.0,391.7 L179.0,390.3 M196.4,426.4 L198.6,424.4 M196.4,426.4 L198.6,428.4 M172.9,427.2 L175.8,430.6 M175.8,430.6 L178.2,430.9 M175.8,430.6 L175.7,433.0 M188.7,426.4 L191.2,422.7 M191.2,422.7 L190.8,420.3 M191.2,422.7 L193.5,422.2 M187.5,437.4 L190.4,438.2 M187.5,437.4 L186.9,440.3 M184.2,431.9 L188.7,432.2 M188.7,432.2 L190.5,430.6 M188.7,432.2 L190.3,433.9 M152.1,435.2 L150.5,437.7 M152.1,435.2 L149.4,433.8 M158.1,433.6 L154.6,430.7 M154.6,430.7 L152.2,430.8 M154.6,430.7 L154.4,428.3 M189.7,457.3 L192.7,456.8 M189.7,457.3 L190.4,460.2 M177.6,450.4 L181.4,448.1 M181.4,448.1 L182.0,445.8 M181.4,448.1 L183.7,448.5 M186.4,455.1 L186.5,459.6 M186.5,459.6 L188.1,461.3 M186.5,459.6 L184.8,461.4 M158.8,481.7 L160.3,484.3 M158.8,481.7 L156.3,483.3 M167.6,467.4 L163.3,466.1 M163.3,466.1 L161.1,467.2 M163.3,466.1 L162.1,464.1 M159.9,477.2 L162.9,480.6 M162.9,480.6 L165.3,480.8 M162.9,480.6 L162.8,483.0 M196.0,484.0 L199.0,483.9 M196.0,484.0 L196.3,487.0 M186.4,479.0 L189.9,476.1 M189.9,476.1 L190.3,473.7 M189.9,476.1 L192.3,476.3 M176.0,490.0 L176.3,493.0 M176.0,490.0 L173.0,490.5 M179.5,485.5 L175.0,485.2 M175.0,485.2 L173.2,486.8 M175.0,485.2 L173.4,483.5 " stroke="#c0b6b4" stroke-width="2.2"/>
<path d="M123.5,396.0 L119.0,404.0 L113.2,413.0 L107.6,426.5 L104.3,442.0" stroke="#f8dcd0" stroke-width="5.2"/>
<path d="M104.3,442.0 L101.0,455.0 L95.4,470.8 L86.6,484.0 L80.0,493.0" stroke="#f8dcd0" stroke-width="3.0"/>
<path d="M113.2,411.0 L99.9,406.5 L86.6,403.2 L73.3,404.3 L68.9,407.6" stroke="#f8dcd0" stroke-width="2.2"/>
<path d="M99.9,406.5 L97.7,393.2 L95.4,384.4 L93.2,374.0" stroke="#f8dcd0" stroke-width="1.8"/>
<path d="M95.4,384.4 L101.0,378.0 L106.5,373.5" stroke="#f8dcd0" stroke-width="1.3"/>
<path d="M86.6,403.2 L82.2,393.2 L77.7,386.6" stroke="#f8dcd0" stroke-width="1.4"/>
<path d="M104.3,435.3 L91.0,437.5 L77.7,435.3 L66.6,431.0" stroke="#f8dcd0" stroke-width="2.0"/>
<path d="M91.0,437.5 L86.0,446.0 L82.0,449.0" stroke="#f8dcd0" stroke-width="1.2"/>
<path d="M104.0,434.0 L117.6,433.1" stroke="#f8dcd0" stroke-width="1.3"/>
<path d="M102.1,450.8 L86.6,453.0 L71.0,457.5" stroke="#f8dcd0" stroke-width="1.8"/>
<path d="M86.6,453.0 L84.0,462.0" stroke="#f8dcd0" stroke-width="1.2"/>
<path d="M101.0,455.0 L111.0,462.0" stroke="#f8dcd0" stroke-width="1.3"/>
<path d="M95.4,466.3 L77.7,470.8 L68.9,479.6" stroke="#f8dcd0" stroke-width="1.6"/>
<path d="M90.0,476.0 L73.3,486.3" stroke="#f8dcd0" stroke-width="1.4"/>
<path d="M93.0,472.0 L108.7,475.2" stroke="#f8dcd0" stroke-width="1.3"/>
<path d="M86.6,484.0 L91.0,493.0" stroke="#f8dcd0" stroke-width="1.3"/>
<path d="M137.5,395.0 L142.0,404.0 L147.7,410.9 L158.8,417.5 L165.4,430.8 L172.0,446.3" stroke="#f8dcd0" stroke-width="5.2"/>
<path d="M172.0,446.3 L174.2,459.6 L180.9,477.3 L187.5,488.3" stroke="#f8dcd0" stroke-width="3.0"/>
<path d="M158.8,417.5 L169.8,410.9 L185.3,404.2 L196.4,402.0" stroke="#f8dcd0" stroke-width="2.0"/>
<path d="M163.2,408.7 L165.4,393.2 L161.0,382.1 L158.8,373.5" stroke="#f8dcd0" stroke-width="1.8"/>
<path d="M165.4,393.2 L170.0,383.0 L174.2,373.5" stroke="#f8dcd0" stroke-width="1.3"/>
<path d="M169.0,399.0 L183.1,393.2" stroke="#f8dcd0" stroke-width="1.3"/>
<path d="M165.0,428.0 L180.9,426.4 L196.4,426.4" stroke="#f8dcd0" stroke-width="1.8"/>
<path d="M180.9,426.4 L187.5,437.4" stroke="#f8dcd0" stroke-width="1.3"/>
<path d="M164.0,432.0 L152.1,435.2" stroke="#f8dcd0" stroke-width="1.3"/>
<path d="M172.0,448.0 L183.1,452.9 L189.7,457.3" stroke="#f8dcd0" stroke-width="1.6"/>
<path d="M174.2,462.0 L161.0,472.8 L158.8,481.7" stroke="#f8dcd0" stroke-width="1.6"/>
<path d="M180.9,477.3 L192.0,480.6 L196.0,484.0" stroke="#f8dcd0" stroke-width="1.4"/>
<path d="M183.0,481.0 L176.0,490.0" stroke="#f8dcd0" stroke-width="1.2"/>
<path d="M104.3,442.0 L105.8,444.6 M104.3,442.0 L101.8,443.7 M80.0,493.0 L80.4,496.0 M80.0,493.0 L77.1,493.6 M102.7,448.5 L105.6,451.9 M105.6,451.9 L108.0,452.1 M105.6,451.9 L105.6,454.3 M98.2,462.9 L93.9,464.1 M93.9,464.1 L92.6,466.1 M93.9,464.1 L91.7,462.9 M91.0,477.4 L92.7,481.6 M92.7,481.6 L94.9,482.6 M92.7,481.6 L91.8,483.8 M83.3,488.5 L78.8,488.4 M78.8,488.4 L77.0,489.9 M78.8,488.4 L77.1,486.7 M68.9,407.6 L68.4,410.6 M68.9,407.6 L65.9,407.3 M106.6,408.8 L105.3,404.4 M105.3,404.4 L103.3,403.2 M105.3,404.4 L106.4,402.3 M93.2,404.9 L89.9,407.8 M89.9,407.8 L89.7,410.2 M89.9,407.8 L87.5,407.8 M79.9,403.8 L77.1,400.3 M77.1,400.3 L74.7,399.9 M77.1,400.3 L77.3,397.9 M93.2,374.0 L90.7,372.3 M93.2,374.0 L94.7,371.4 M98.8,399.9 L94.7,397.9 M94.7,397.9 L92.4,398.7 M94.7,397.9 L93.8,395.7 M96.6,388.8 L99.5,385.4 M99.5,385.4 L99.4,383.0 M99.5,385.4 L101.9,385.1 M94.3,379.2 L90.1,377.5 M90.1,377.5 L87.9,378.3 M90.1,377.5 L89.1,375.3 M106.5,373.5 L106.9,370.5 M106.5,373.5 L109.5,373.7 M98.2,381.2 L102.7,381.7 M102.7,381.7 L104.6,380.3 M102.7,381.7 L104.2,383.6 M103.8,375.8 L103.4,371.3 M103.4,371.3 L101.6,369.7 M103.4,371.3 L104.8,369.4 M77.7,386.6 L74.8,385.9 M77.7,386.6 L78.2,383.6 M84.4,398.2 L80.0,397.4 M80.0,397.4 L77.9,398.7 M80.0,397.4 L78.6,395.4 M80.0,389.9 L81.6,385.7 M81.6,385.7 L80.7,383.5 M81.6,385.7 L83.7,384.7 M66.6,431.0 L63.8,432.1 M66.6,431.0 L65.3,428.3 M97.7,436.4 L94.5,433.2 M94.5,433.2 L92.1,433.0 M94.5,433.2 L94.5,430.8 M84.3,436.4 L81.2,439.6 M81.2,439.6 L81.2,442.0 M81.2,439.6 L78.8,439.8 M72.2,433.1 L71.1,428.8 M71.1,428.8 L69.1,427.4 M71.1,428.8 L72.3,426.7 M82.0,449.0 L81.5,452.0 M82.0,449.0 L79.0,448.7 M88.5,441.8 L90.4,445.8 M90.4,445.8 L92.6,446.7 M90.4,445.8 L89.7,448.1 M117.6,433.1 L119.7,430.9 M117.6,433.1 L119.9,435.0 M110.8,433.6 L113.6,437.1 M113.6,437.1 L116.0,437.5 M113.6,437.1 L113.4,439.5 M71.0,457.5 L69.5,460.1 M71.0,457.5 L68.3,456.1 M94.3,451.9 L92.4,455.9 M92.4,455.9 L93.0,458.2 M92.4,455.9 L90.1,456.8 M78.8,455.2 L75.3,452.4 M75.3,452.4 L72.9,452.5 M75.3,452.4 L75.0,450.0 M84.0,462.0 L85.4,464.7 M84.0,462.0 L81.4,463.5 M85.3,457.5 L81.0,458.9 M81.0,458.9 L79.9,461.0 M81.0,458.9 L78.8,457.9 M111.0,462.0 L114.0,461.6 M111.0,462.0 L111.6,464.9 M106.0,458.5 L110.2,456.9 M110.2,456.9 L111.3,454.8 M110.2,456.9 L112.4,457.8 M68.9,479.6 L68.8,482.6 M68.9,479.6 L65.9,479.7 M86.6,468.6 L83.2,465.6 M83.2,465.6 L80.8,465.6 M83.2,465.6 L82.9,463.2 M73.3,475.2 L74.1,479.6 M74.1,479.6 L76.1,481.0 M74.1,479.6 L72.8,481.7 M73.3,486.3 L72.5,489.2 M73.3,486.3 L70.4,485.7 M81.7,481.1 L81.4,485.6 M81.4,485.6 L83.0,487.5 M81.4,485.6 L79.7,487.3 M108.7,475.2 L111.3,473.6 M108.7,475.2 L110.4,477.6 M100.8,473.6 L102.6,477.7 M102.6,477.7 L104.8,478.7 M102.6,477.7 L101.8,480.0 M91.0,493.0 L93.8,494.1 M91.0,493.0 L90.1,495.9 M88.8,488.5 L93.3,489.2 M93.3,489.2 L95.2,487.8 M93.3,489.2 L94.8,491.0 M172.0,446.3 L174.7,447.5 M172.0,446.3 L171.0,449.1 M187.5,488.3 L190.4,489.1 M187.5,488.3 L186.9,491.2 M173.1,453.0 L177.2,454.9 M177.2,454.9 L179.5,454.1 M177.2,454.9 L178.1,457.1 M177.6,468.5 L175.0,472.1 M175.0,472.1 L175.3,474.5 M175.0,472.1 L172.6,472.6 M184.2,482.8 L188.7,483.1 M188.7,483.1 L190.5,481.5 M188.7,483.1 L190.3,484.8 M196.4,402.0 L198.2,399.6 M196.4,402.0 L199.0,403.6 M164.3,414.2 L168.4,416.1 M168.4,416.1 L170.7,415.3 M168.4,416.1 L169.3,418.3 M177.6,407.5 L178.4,403.1 M178.4,403.1 L177.1,401.1 M178.4,403.1 L180.3,401.7 M190.9,403.1 L194.1,406.2 M194.1,406.2 L196.5,406.3 M194.1,406.2 L194.2,408.6 M158.8,373.5 L156.3,371.9 M158.8,373.5 L160.2,370.9 M164.3,400.9 L161.0,397.9 M161.0,397.9 L158.6,397.9 M161.0,397.9 L160.8,395.5 M163.2,387.6 L165.7,383.9 M165.7,383.9 L165.3,381.5 M165.7,383.9 L168.1,383.4 M159.9,377.8 L155.7,376.3 M155.7,376.3 L153.5,377.2 M155.7,376.3 L154.6,374.1 M174.2,373.5 L173.2,370.7 M174.2,373.5 L177.0,372.3 M167.7,388.1 L172.1,387.3 M172.1,387.3 L173.6,385.4 M172.1,387.3 L174.1,388.6 M172.1,378.2 L169.7,374.4 M169.7,374.4 L167.4,373.8 M169.7,374.4 L170.2,372.1 M183.1,393.2 L184.4,390.5 M183.1,393.2 L185.9,394.3 M176.1,396.1 L177.0,391.7 M177.0,391.7 L175.8,389.6 M177.0,391.7 L179.0,390.3 M196.4,426.4 L198.6,424.4 M196.4,426.4 L198.6,428.4 M172.9,427.2 L175.8,430.6 M175.8,430.6 L178.2,430.9 M175.8,430.6 L175.7,433.0 M188.7,426.4 L191.2,422.7 M191.2,422.7 L190.8,420.3 M191.2,422.7 L193.5,422.2 M187.5,437.4 L190.4,438.2 M187.5,437.4 L186.9,440.3 M184.2,431.9 L188.7,432.2 M188.7,432.2 L190.5,430.6 M188.7,432.2 L190.3,433.9 M152.1,435.2 L150.5,437.7 M152.1,435.2 L149.4,433.8 M158.1,433.6 L154.6,430.7 M154.6,430.7 L152.2,430.8 M154.6,430.7 L154.4,428.3 M189.7,457.3 L192.7,456.8 M189.7,457.3 L190.4,460.2 M177.6,450.4 L181.4,448.1 M181.4,448.1 L182.0,445.8 M181.4,448.1 L183.7,448.5 M186.4,455.1 L186.5,459.6 M186.5,459.6 L188.1,461.3 M186.5,459.6 L184.8,461.4 M158.8,481.7 L160.3,484.3 M158.8,481.7 L156.3,483.3 M167.6,467.4 L163.3,466.1 M163.3,466.1 L161.1,467.2 M163.3,466.1 L162.1,464.1 M159.9,477.2 L162.9,480.6 M162.9,480.6 L165.3,480.8 M162.9,480.6 L162.8,483.0 M196.0,484.0 L199.0,483.9 M196.0,484.0 L196.3,487.0 M186.4,479.0 L189.9,476.1 M189.9,476.1 L190.3,473.7 M189.9,476.1 L192.3,476.3 M176.0,490.0 L176.3,493.0 M176.0,490.0 L173.0,490.5 M179.5,485.5 L175.0,485.2 M175.0,485.2 L173.2,486.8 M175.0,485.2 L173.4,483.5 " stroke="#f4e8e4" stroke-width="0.9"/>
<rect x="124.3" y="337" width="12" height="53" rx="1.5" fill="#aacbe2" stroke="#7f9cb2" stroke-width="0.7"/>
<path d="M125,339.0 L136,339.0 M125,342.4 L136,342.4 M125,345.8 L136,345.8 M125,349.2 L136,349.2 M125,352.6 L136,352.6 M125,356.0 L136,356.0 M125,359.4 L136,359.4 M125,362.8 L136,362.8 M125,366.2 L136,366.2 M125,369.6 L136,369.6 M125,373.0 L136,373.0 M125,376.4 L136,376.4 M125,379.8 L136,379.8 M125,383.2 L136,383.2 M125,386.6 L136,386.6 " stroke="#7f9cb2" stroke-width="0.8"/>
<path d="M127,389 L121,402 M133.5,389 L140,401" stroke="#7f9cb2" stroke-width="8.4" stroke-linecap="butt"/>
<path d="M127,389 L121,402 M133.5,389 L140,401" stroke="#aacbe2" stroke-width="7" stroke-linecap="butt"/>
<path d="M124.3,388 L136.3,388 L136,392 L124.6,392 Z" fill="#aacbe2"/>
<path d="M124.5,392.5 L136,392.5 M121,397 L127,399 M140,396 L134,398.5" stroke="#e2eef6" stroke-width="1.2"/>
</g>
</g>
<g>
<path d="M390.6,236.5 C390.5,241.2 387.7,246.9 384.2,250.2 C380.7,253.6 374.5,256.6 369.6,256.6 C364.7,256.6 358.5,253.6 355.0,250.3 C351.4,246.9 348.2,241.1 348.2,236.5 C348.2,231.9 351.5,226.1 355.0,222.8 C358.6,219.5 364.7,216.8 369.6,216.7 C374.5,216.6 381.2,219.0 384.7,222.3 C388.2,225.6 390.7,231.8 390.6,236.5Z" fill="url(#cyto)" stroke="#2eaab0" stroke-width="0.8"/>
<path d="M386.4,235.3 C386.3,239.2 383.9,244.1 380.9,246.9 C377.9,249.8 372.6,252.3 368.4,252.4 C364.2,252.4 358.9,249.8 355.9,247.0 C352.8,244.2 350.0,239.2 350.0,235.3 C350.1,231.4 352.9,226.5 355.9,223.7 C359.0,220.9 364.2,218.6 368.4,218.5 C372.6,218.4 378.3,220.4 381.3,223.2 C384.3,226.0 386.5,231.4 386.4,235.3Z" fill="none" stroke="#c8f2f2" stroke-width="1" opacity="0.7"/>
<path d="M380.4,236.6 C380.4,239.7 378.6,243.6 376.5,245.9 C374.4,248.1 370.6,250.1 367.7,250.1 C364.8,250.1 361.0,248.2 358.9,245.9 C356.7,243.7 354.8,239.7 354.8,236.6 C354.8,233.5 356.7,229.5 358.8,227.2 C361.0,225.0 364.7,223.2 367.7,223.2 C370.7,223.2 374.4,225.0 376.5,227.3 C378.7,229.5 380.4,233.5 380.4,236.6Z" fill="#ac4a92" stroke="#86347a" stroke-width="1.1"/>
<path d="M358.5,233.6 Q360.0,227.2 366.7,225.7" stroke="#e8a6d2" stroke-width="1.1" fill="none"/>
</g><g>
<path d="M460.3,235.8 C460.3,240.5 456.9,246.4 453.2,249.9 C449.4,253.4 443.1,256.7 438.0,256.7 C432.9,256.7 426.3,253.6 422.6,250.2 C418.9,246.7 416.0,240.6 416.0,235.8 C416.0,231.0 419.1,225.1 422.8,221.6 C426.4,218.1 432.9,214.9 438.0,214.9 C443.1,214.9 449.7,218.0 453.4,221.4 C457.1,224.9 460.4,231.1 460.3,235.8Z" fill="url(#cyto)" stroke="#2eaab0" stroke-width="0.8"/>
<path d="M456.1,234.6 C456.1,238.7 453.1,243.7 449.9,246.7 C446.7,249.6 441.2,252.4 436.8,252.5 C432.4,252.5 426.7,249.8 423.5,246.9 C420.3,243.9 417.8,238.7 417.8,234.6 C417.8,230.5 420.5,225.4 423.6,222.5 C426.8,219.5 432.4,216.8 436.8,216.8 C441.2,216.7 446.9,219.4 450.1,222.3 C453.3,225.3 456.1,230.5 456.1,234.6Z" fill="none" stroke="#c8f2f2" stroke-width="1" opacity="0.7"/>
<path d="M449.0,235.0 C449.1,238.0 447.4,242.0 445.2,244.0 C442.9,246.1 438.7,247.4 435.5,247.3 C432.3,247.3 428.1,246.1 425.9,244.0 C423.6,241.9 422.2,238.0 422.2,235.0 C422.2,232.0 423.6,228.0 425.8,226.0 C428.0,223.9 432.3,222.5 435.5,222.5 C438.7,222.6 442.6,224.2 444.9,226.3 C447.1,228.3 448.9,232.0 449.0,235.0Z" fill="#ac4a92" stroke="#86347a" stroke-width="1.1"/>
<path d="M425.5,232 Q427.0,226.4 434.5,224.9" stroke="#e8a6d2" stroke-width="1.1" fill="none"/>
</g><g>
<path d="M421.9,282.5 C422.0,287.4 419.8,293.9 416.4,297.3 C413.0,300.6 406.5,302.6 401.6,302.6 C396.7,302.6 390.3,300.6 386.9,297.2 C383.5,293.9 381.0,287.3 381.1,282.5 C381.2,277.7 384.0,271.8 387.4,268.3 C390.8,264.8 396.8,261.6 401.6,261.6 C406.4,261.6 412.6,264.7 416.0,268.1 C419.3,271.6 421.8,277.6 421.9,282.5Z" fill="url(#cyto)" stroke="#2eaab0" stroke-width="0.8"/>
<path d="M417.7,281.3 C417.8,285.4 415.9,291.1 413.0,293.9 C410.1,296.8 404.6,298.5 400.4,298.4 C396.2,298.4 390.8,296.7 387.8,293.9 C384.9,291.0 382.8,285.4 382.9,281.3 C383.0,277.2 385.4,272.1 388.3,269.2 C391.2,266.2 396.3,263.5 400.4,263.4 C404.5,263.4 409.8,266.1 412.7,269.0 C415.5,272.0 417.7,277.2 417.7,281.3Z" fill="none" stroke="#c8f2f2" stroke-width="1" opacity="0.7"/>
<path d="M412.7,283.2 C412.7,286.7 410.9,291.1 408.8,293.6 C406.7,296.1 402.9,298.2 400.0,298.2 C397.1,298.2 393.4,296.1 391.3,293.6 C389.1,291.1 387.2,286.7 387.2,283.2 C387.2,279.7 389.0,275.2 391.2,272.7 C393.3,270.2 397.0,268.2 400.0,268.2 C403.0,268.2 406.9,270.0 409.0,272.5 C411.1,275.0 412.8,279.7 412.7,283.2Z" fill="#ac4a92" stroke="#86347a" stroke-width="1.1"/>
<path d="M390.9,280.2 Q392.4,272.2 399,270.7" stroke="#e8a6d2" stroke-width="1.1" fill="none"/>
</g>
<g fill="#1870c6" stroke="#1562b4" stroke-width="0.5" stroke-linejoin="miter">
<path d="M267.5,122.6 L298.7,144.8 L292.3,148.6 L336.5,218.7 L335.5,219.3 L284.0,154.6 L277.7,159.5Z"/>
<path d="M398.8,76.6 L411.0,113.2 L403.9,112.7 L399.4,196.3 L398.2,196.3 L393.7,112.7 L387.3,113.2Z"/>
<path d="M521.7,116.4 L510.8,152.4 L505.5,147.8 L453.2,212.8 L452.2,212.2 L497.2,141.8 L491.3,138.0Z"/>
<path d="M190.8,238.2 L228.0,237.4 L225.4,244.0 L303.0,273.7 L302.6,274.9 L222.3,253.7 L220.7,260.6Z"/>
<path d="M607.0,238.5 L576.7,260.4 L575.3,254.2 L496.2,275.2 L495.8,274.0 L572.1,244.5 L569.4,237.6Z"/>
<path d="M198.4,377.4 L228.3,355.3 L230.0,361.7 L310.4,340.2 L310.8,341.4 L233.1,371.4 L235.9,378.0Z"/>
<path d="M599.6,377.4 L561.6,378.4 L564.4,371.3 L488.2,341.9 L488.6,340.7 L567.6,361.6 L569.3,354.8Z"/>
<path d="M278.0,477.6 L289.0,441.6 L294.5,445.9 L346.2,381.4 L347.2,382.0 L302.7,451.8 L308.8,455.3Z"/>
<path d="M398.7,516.4 L387.0,479.5 L393.6,480.0 L398.1,396.6 L399.3,396.6 L403.8,480.0 L410.8,479.5Z"/>
<path d="M521.8,477.6 L491.1,455.6 L497.1,451.9 L452.8,382.7 L453.8,381.9 L505.3,446.0 L510.5,441.6Z"/>
</g>
<text x="198.4" y="115">Cartilage</text>
<text x="377" y="69">Bone</text>
<text x="527.5" y="147.5">Adipose</text>
<text x="116.3" y="309">Skin</text>
<text x="678.8" y="314">Muscle</text>
<text x="309.6" y="329.6">Multiple differentiation</text>
<text x="326.9" y="352.2">potential of MSCs</text>
<text x="104" y="517.5">Trachea</text>
<text x="699.7" y="467.6">Nerve</text>
<text x="223.3" y="576.3">Cornea</text>
<text x="537.6" y="616">Myocardium</text>
<rect x="0" y="631.4" width="900" height="2" fill="#c9cdcd"/>
</svg>
</div></body></html>
